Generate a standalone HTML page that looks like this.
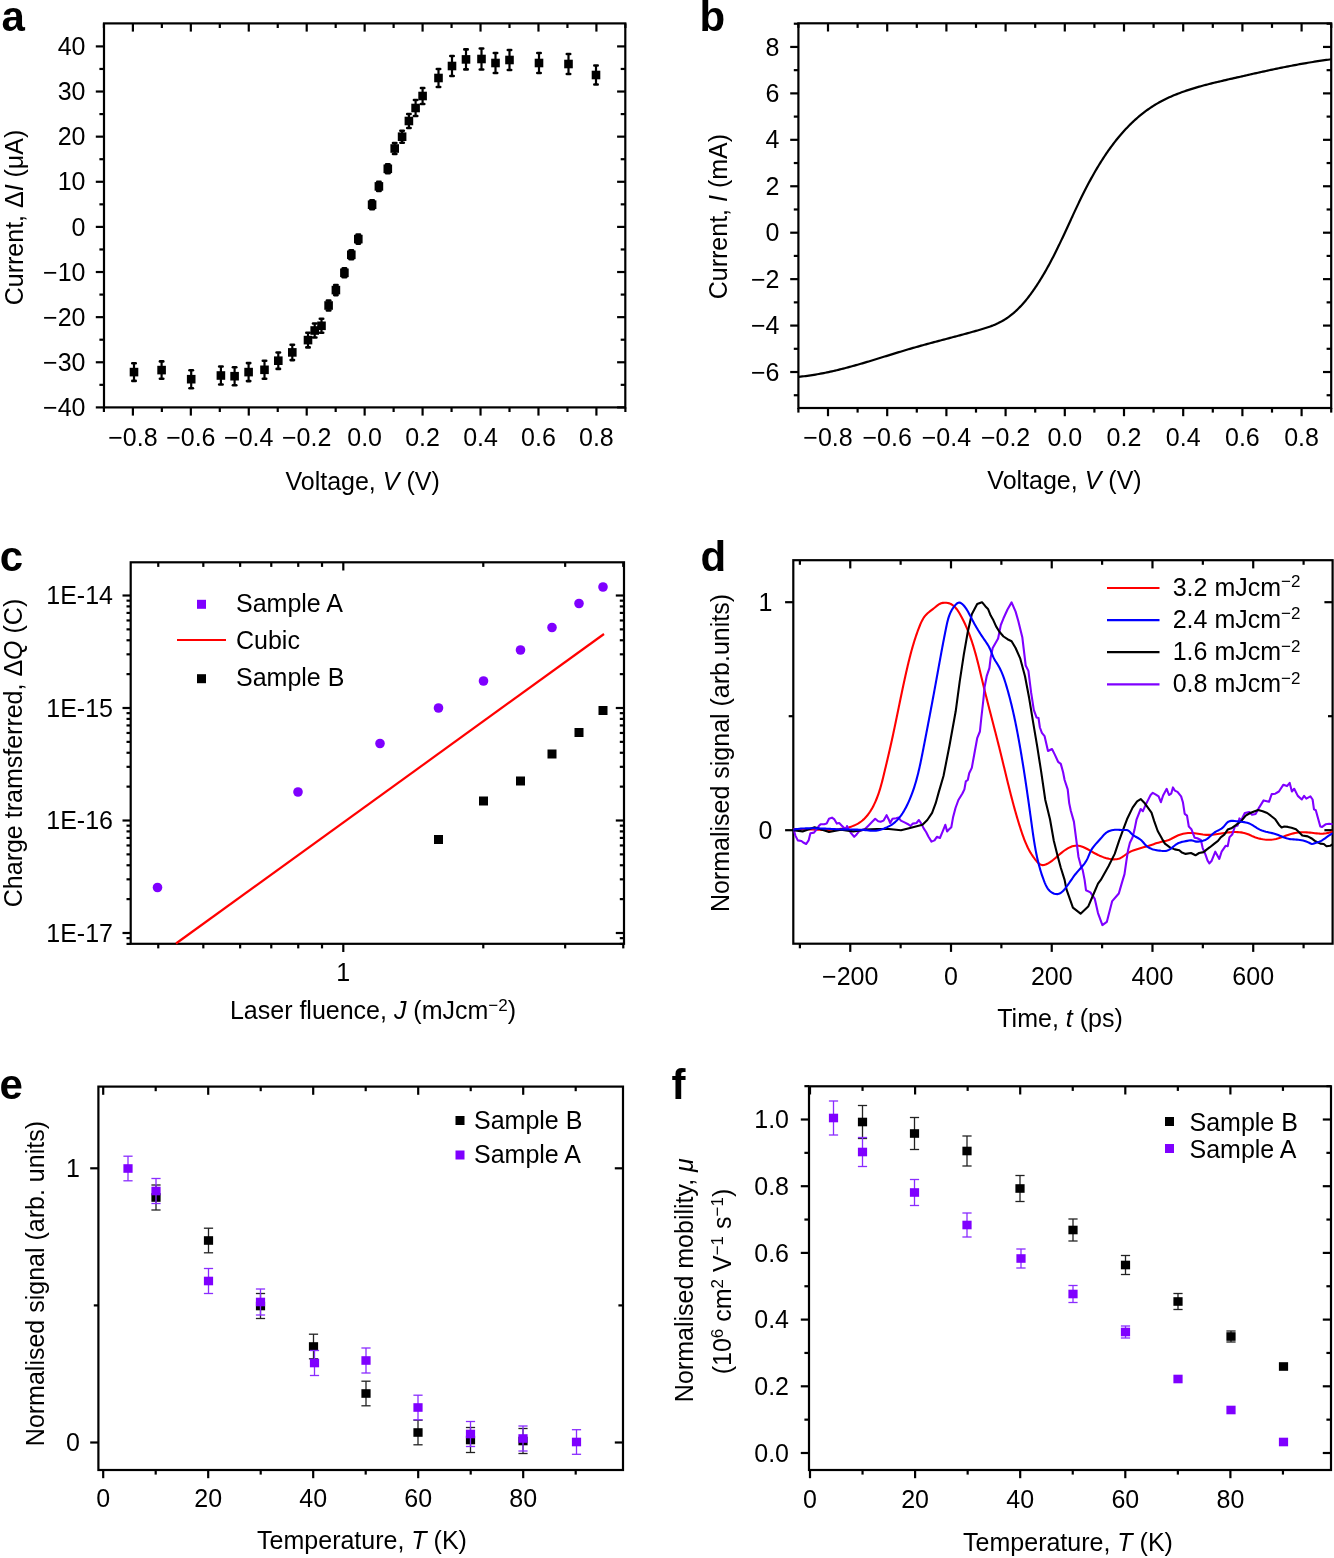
<!DOCTYPE html>
<html><head><meta charset="utf-8"><style>
html,body{margin:0;padding:0;background:#fff;}
body{width:1334px;height:1558px;overflow:hidden;}
svg{display:block;will-change:transform;}
text{font-family:"Liberation Sans", sans-serif;fill:#000;}
</style></head><body>
<svg width="1334" height="1558" viewBox="0 0 1334 1558" font-family='"Liberation Sans", sans-serif'><rect x="104" y="23.4" width="521.3" height="384" fill="none" stroke="#000" stroke-width="2.2"/>
<line x1="132.89" y1="407.4" x2="132.89" y2="415.6" stroke="#000" stroke-width="2.2" stroke-linecap="butt"/>
<line x1="132.89" y1="23.4" x2="132.89" y2="31.6" stroke="#000" stroke-width="2.2" stroke-linecap="butt"/>
<line x1="190.83" y1="407.4" x2="190.83" y2="415.6" stroke="#000" stroke-width="2.2" stroke-linecap="butt"/>
<line x1="190.83" y1="23.4" x2="190.83" y2="31.6" stroke="#000" stroke-width="2.2" stroke-linecap="butt"/>
<line x1="248.77" y1="407.4" x2="248.77" y2="415.6" stroke="#000" stroke-width="2.2" stroke-linecap="butt"/>
<line x1="248.77" y1="23.4" x2="248.77" y2="31.6" stroke="#000" stroke-width="2.2" stroke-linecap="butt"/>
<line x1="306.71" y1="407.4" x2="306.71" y2="415.6" stroke="#000" stroke-width="2.2" stroke-linecap="butt"/>
<line x1="306.71" y1="23.4" x2="306.71" y2="31.6" stroke="#000" stroke-width="2.2" stroke-linecap="butt"/>
<line x1="364.65" y1="407.4" x2="364.65" y2="415.6" stroke="#000" stroke-width="2.2" stroke-linecap="butt"/>
<line x1="364.65" y1="23.4" x2="364.65" y2="31.6" stroke="#000" stroke-width="2.2" stroke-linecap="butt"/>
<line x1="422.59" y1="407.4" x2="422.59" y2="415.6" stroke="#000" stroke-width="2.2" stroke-linecap="butt"/>
<line x1="422.59" y1="23.4" x2="422.59" y2="31.6" stroke="#000" stroke-width="2.2" stroke-linecap="butt"/>
<line x1="480.53" y1="407.4" x2="480.53" y2="415.6" stroke="#000" stroke-width="2.2" stroke-linecap="butt"/>
<line x1="480.53" y1="23.4" x2="480.53" y2="31.6" stroke="#000" stroke-width="2.2" stroke-linecap="butt"/>
<line x1="538.47" y1="407.4" x2="538.47" y2="415.6" stroke="#000" stroke-width="2.2" stroke-linecap="butt"/>
<line x1="538.47" y1="23.4" x2="538.47" y2="31.6" stroke="#000" stroke-width="2.2" stroke-linecap="butt"/>
<line x1="596.41" y1="407.4" x2="596.41" y2="415.6" stroke="#000" stroke-width="2.2" stroke-linecap="butt"/>
<line x1="596.41" y1="23.4" x2="596.41" y2="31.6" stroke="#000" stroke-width="2.2" stroke-linecap="butt"/>
<line x1="103.92" y1="407.4" x2="103.92" y2="412" stroke="#000" stroke-width="2.2" stroke-linecap="butt"/>
<line x1="103.92" y1="23.4" x2="103.92" y2="28" stroke="#000" stroke-width="2.2" stroke-linecap="butt"/>
<line x1="161.86" y1="407.4" x2="161.86" y2="412" stroke="#000" stroke-width="2.2" stroke-linecap="butt"/>
<line x1="161.86" y1="23.4" x2="161.86" y2="28" stroke="#000" stroke-width="2.2" stroke-linecap="butt"/>
<line x1="219.8" y1="407.4" x2="219.8" y2="412" stroke="#000" stroke-width="2.2" stroke-linecap="butt"/>
<line x1="219.8" y1="23.4" x2="219.8" y2="28" stroke="#000" stroke-width="2.2" stroke-linecap="butt"/>
<line x1="277.74" y1="407.4" x2="277.74" y2="412" stroke="#000" stroke-width="2.2" stroke-linecap="butt"/>
<line x1="277.74" y1="23.4" x2="277.74" y2="28" stroke="#000" stroke-width="2.2" stroke-linecap="butt"/>
<line x1="335.68" y1="407.4" x2="335.68" y2="412" stroke="#000" stroke-width="2.2" stroke-linecap="butt"/>
<line x1="335.68" y1="23.4" x2="335.68" y2="28" stroke="#000" stroke-width="2.2" stroke-linecap="butt"/>
<line x1="393.62" y1="407.4" x2="393.62" y2="412" stroke="#000" stroke-width="2.2" stroke-linecap="butt"/>
<line x1="393.62" y1="23.4" x2="393.62" y2="28" stroke="#000" stroke-width="2.2" stroke-linecap="butt"/>
<line x1="451.56" y1="407.4" x2="451.56" y2="412" stroke="#000" stroke-width="2.2" stroke-linecap="butt"/>
<line x1="451.56" y1="23.4" x2="451.56" y2="28" stroke="#000" stroke-width="2.2" stroke-linecap="butt"/>
<line x1="509.5" y1="407.4" x2="509.5" y2="412" stroke="#000" stroke-width="2.2" stroke-linecap="butt"/>
<line x1="509.5" y1="23.4" x2="509.5" y2="28" stroke="#000" stroke-width="2.2" stroke-linecap="butt"/>
<line x1="567.44" y1="407.4" x2="567.44" y2="412" stroke="#000" stroke-width="2.2" stroke-linecap="butt"/>
<line x1="567.44" y1="23.4" x2="567.44" y2="28" stroke="#000" stroke-width="2.2" stroke-linecap="butt"/>
<line x1="625.38" y1="407.4" x2="625.38" y2="412" stroke="#000" stroke-width="2.2" stroke-linecap="butt"/>
<line x1="625.38" y1="23.4" x2="625.38" y2="28" stroke="#000" stroke-width="2.2" stroke-linecap="butt"/>
<line x1="95.8" y1="407.4" x2="104" y2="407.4" stroke="#000" stroke-width="2.2" stroke-linecap="butt"/>
<line x1="617.1" y1="407.4" x2="625.3" y2="407.4" stroke="#000" stroke-width="2.2" stroke-linecap="butt"/>
<line x1="95.8" y1="362.27" x2="104" y2="362.27" stroke="#000" stroke-width="2.2" stroke-linecap="butt"/>
<line x1="617.1" y1="362.27" x2="625.3" y2="362.27" stroke="#000" stroke-width="2.2" stroke-linecap="butt"/>
<line x1="95.8" y1="317.15" x2="104" y2="317.15" stroke="#000" stroke-width="2.2" stroke-linecap="butt"/>
<line x1="617.1" y1="317.15" x2="625.3" y2="317.15" stroke="#000" stroke-width="2.2" stroke-linecap="butt"/>
<line x1="95.8" y1="272.02" x2="104" y2="272.02" stroke="#000" stroke-width="2.2" stroke-linecap="butt"/>
<line x1="617.1" y1="272.02" x2="625.3" y2="272.02" stroke="#000" stroke-width="2.2" stroke-linecap="butt"/>
<line x1="95.8" y1="226.9" x2="104" y2="226.9" stroke="#000" stroke-width="2.2" stroke-linecap="butt"/>
<line x1="617.1" y1="226.9" x2="625.3" y2="226.9" stroke="#000" stroke-width="2.2" stroke-linecap="butt"/>
<line x1="95.8" y1="181.78" x2="104" y2="181.78" stroke="#000" stroke-width="2.2" stroke-linecap="butt"/>
<line x1="617.1" y1="181.78" x2="625.3" y2="181.78" stroke="#000" stroke-width="2.2" stroke-linecap="butt"/>
<line x1="95.8" y1="136.65" x2="104" y2="136.65" stroke="#000" stroke-width="2.2" stroke-linecap="butt"/>
<line x1="617.1" y1="136.65" x2="625.3" y2="136.65" stroke="#000" stroke-width="2.2" stroke-linecap="butt"/>
<line x1="95.8" y1="91.53" x2="104" y2="91.53" stroke="#000" stroke-width="2.2" stroke-linecap="butt"/>
<line x1="617.1" y1="91.53" x2="625.3" y2="91.53" stroke="#000" stroke-width="2.2" stroke-linecap="butt"/>
<line x1="95.8" y1="46.4" x2="104" y2="46.4" stroke="#000" stroke-width="2.2" stroke-linecap="butt"/>
<line x1="617.1" y1="46.4" x2="625.3" y2="46.4" stroke="#000" stroke-width="2.2" stroke-linecap="butt"/>
<line x1="99.4" y1="384.84" x2="104" y2="384.84" stroke="#000" stroke-width="2.2" stroke-linecap="butt"/>
<line x1="620.7" y1="384.84" x2="625.3" y2="384.84" stroke="#000" stroke-width="2.2" stroke-linecap="butt"/>
<line x1="99.4" y1="339.71" x2="104" y2="339.71" stroke="#000" stroke-width="2.2" stroke-linecap="butt"/>
<line x1="620.7" y1="339.71" x2="625.3" y2="339.71" stroke="#000" stroke-width="2.2" stroke-linecap="butt"/>
<line x1="99.4" y1="294.59" x2="104" y2="294.59" stroke="#000" stroke-width="2.2" stroke-linecap="butt"/>
<line x1="620.7" y1="294.59" x2="625.3" y2="294.59" stroke="#000" stroke-width="2.2" stroke-linecap="butt"/>
<line x1="99.4" y1="249.46" x2="104" y2="249.46" stroke="#000" stroke-width="2.2" stroke-linecap="butt"/>
<line x1="620.7" y1="249.46" x2="625.3" y2="249.46" stroke="#000" stroke-width="2.2" stroke-linecap="butt"/>
<line x1="99.4" y1="204.34" x2="104" y2="204.34" stroke="#000" stroke-width="2.2" stroke-linecap="butt"/>
<line x1="620.7" y1="204.34" x2="625.3" y2="204.34" stroke="#000" stroke-width="2.2" stroke-linecap="butt"/>
<line x1="99.4" y1="159.21" x2="104" y2="159.21" stroke="#000" stroke-width="2.2" stroke-linecap="butt"/>
<line x1="620.7" y1="159.21" x2="625.3" y2="159.21" stroke="#000" stroke-width="2.2" stroke-linecap="butt"/>
<line x1="99.4" y1="114.09" x2="104" y2="114.09" stroke="#000" stroke-width="2.2" stroke-linecap="butt"/>
<line x1="620.7" y1="114.09" x2="625.3" y2="114.09" stroke="#000" stroke-width="2.2" stroke-linecap="butt"/>
<line x1="99.4" y1="68.96" x2="104" y2="68.96" stroke="#000" stroke-width="2.2" stroke-linecap="butt"/>
<line x1="620.7" y1="68.96" x2="625.3" y2="68.96" stroke="#000" stroke-width="2.2" stroke-linecap="butt"/>
<text x="132.89" y="445.8" font-size="25" text-anchor="middle">−0.8</text>
<text x="190.83" y="445.8" font-size="25" text-anchor="middle">−0.6</text>
<text x="248.77" y="445.8" font-size="25" text-anchor="middle">−0.4</text>
<text x="306.71" y="445.8" font-size="25" text-anchor="middle">−0.2</text>
<text x="364.65" y="445.8" font-size="25" text-anchor="middle">0.0</text>
<text x="422.59" y="445.8" font-size="25" text-anchor="middle">0.2</text>
<text x="480.53" y="445.8" font-size="25" text-anchor="middle">0.4</text>
<text x="538.47" y="445.8" font-size="25" text-anchor="middle">0.6</text>
<text x="596.41" y="445.8" font-size="25" text-anchor="middle">0.8</text>
<text x="85.5" y="416" font-size="25" text-anchor="end">−40</text>
<text x="85.5" y="370.88" font-size="25" text-anchor="end">−30</text>
<text x="85.5" y="325.75" font-size="25" text-anchor="end">−20</text>
<text x="85.5" y="280.62" font-size="25" text-anchor="end">−10</text>
<text x="85.5" y="235.5" font-size="25" text-anchor="end">0</text>
<text x="85.5" y="190.38" font-size="25" text-anchor="end">10</text>
<text x="85.5" y="145.25" font-size="25" text-anchor="end">20</text>
<text x="85.5" y="100.12" font-size="25" text-anchor="end">30</text>
<text x="85.5" y="55" font-size="25" text-anchor="end">40</text>
<text x="362.6" y="489.5" font-size="25" text-anchor="middle">Voltage, <tspan font-style="italic">V</tspan> (V)</text>
<text x="22.9" y="217.5" font-size="25" text-anchor="middle" transform="rotate(-90 22.9 217.5)">Current, Δ<tspan font-style="italic">I</tspan> (μA)</text>
<text x="1.5" y="30.8" font-size="42" text-anchor="start" font-weight="bold">a</text>
<line x1="134" y1="363.3" x2="134" y2="380.9" stroke="#000" stroke-width="2.2" stroke-linecap="butt"/>
<line x1="132.3" y1="363.3" x2="135.7" y2="363.3" stroke="#000" stroke-width="2.6" stroke-linecap="round"/>
<line x1="132.3" y1="380.9" x2="135.7" y2="380.9" stroke="#000" stroke-width="2.6" stroke-linecap="round"/>
<rect x="129.7" y="367.8" width="8.6" height="8.6" fill="#000"/>
<line x1="161.6" y1="361.4" x2="161.6" y2="378.8" stroke="#000" stroke-width="2.2" stroke-linecap="butt"/>
<line x1="159.9" y1="361.4" x2="163.3" y2="361.4" stroke="#000" stroke-width="2.6" stroke-linecap="round"/>
<line x1="159.9" y1="378.8" x2="163.3" y2="378.8" stroke="#000" stroke-width="2.6" stroke-linecap="round"/>
<rect x="157.3" y="365.8" width="8.6" height="8.6" fill="#000"/>
<line x1="191.2" y1="370.2" x2="191.2" y2="388.2" stroke="#000" stroke-width="2.2" stroke-linecap="butt"/>
<line x1="189.5" y1="370.2" x2="192.9" y2="370.2" stroke="#000" stroke-width="2.6" stroke-linecap="round"/>
<line x1="189.5" y1="388.2" x2="192.9" y2="388.2" stroke="#000" stroke-width="2.6" stroke-linecap="round"/>
<rect x="186.9" y="374.9" width="8.6" height="8.6" fill="#000"/>
<line x1="220.9" y1="366.5" x2="220.9" y2="384.5" stroke="#000" stroke-width="2.2" stroke-linecap="butt"/>
<line x1="219.2" y1="366.5" x2="222.6" y2="366.5" stroke="#000" stroke-width="2.6" stroke-linecap="round"/>
<line x1="219.2" y1="384.5" x2="222.6" y2="384.5" stroke="#000" stroke-width="2.6" stroke-linecap="round"/>
<rect x="216.6" y="371.2" width="8.6" height="8.6" fill="#000"/>
<line x1="234.6" y1="367.2" x2="234.6" y2="385.2" stroke="#000" stroke-width="2.2" stroke-linecap="butt"/>
<line x1="232.9" y1="367.2" x2="236.3" y2="367.2" stroke="#000" stroke-width="2.6" stroke-linecap="round"/>
<line x1="232.9" y1="385.2" x2="236.3" y2="385.2" stroke="#000" stroke-width="2.6" stroke-linecap="round"/>
<rect x="230.3" y="371.9" width="8.6" height="8.6" fill="#000"/>
<line x1="248.6" y1="363.1" x2="248.6" y2="381.1" stroke="#000" stroke-width="2.2" stroke-linecap="butt"/>
<line x1="246.9" y1="363.1" x2="250.3" y2="363.1" stroke="#000" stroke-width="2.6" stroke-linecap="round"/>
<line x1="246.9" y1="381.1" x2="250.3" y2="381.1" stroke="#000" stroke-width="2.6" stroke-linecap="round"/>
<rect x="244.3" y="367.8" width="8.6" height="8.6" fill="#000"/>
<line x1="264.5" y1="360.8" x2="264.5" y2="378.8" stroke="#000" stroke-width="2.2" stroke-linecap="butt"/>
<line x1="262.8" y1="360.8" x2="266.2" y2="360.8" stroke="#000" stroke-width="2.6" stroke-linecap="round"/>
<line x1="262.8" y1="378.8" x2="266.2" y2="378.8" stroke="#000" stroke-width="2.6" stroke-linecap="round"/>
<rect x="260.2" y="365.5" width="8.6" height="8.6" fill="#000"/>
<line x1="278.3" y1="352.5" x2="278.3" y2="368.9" stroke="#000" stroke-width="2.2" stroke-linecap="butt"/>
<line x1="276.6" y1="352.5" x2="280" y2="352.5" stroke="#000" stroke-width="2.6" stroke-linecap="round"/>
<line x1="276.6" y1="368.9" x2="280" y2="368.9" stroke="#000" stroke-width="2.6" stroke-linecap="round"/>
<rect x="274" y="356.4" width="8.6" height="8.6" fill="#000"/>
<line x1="292.3" y1="344.7" x2="292.3" y2="360.1" stroke="#000" stroke-width="2.2" stroke-linecap="butt"/>
<line x1="290.6" y1="344.7" x2="294" y2="344.7" stroke="#000" stroke-width="2.6" stroke-linecap="round"/>
<line x1="290.6" y1="360.1" x2="294" y2="360.1" stroke="#000" stroke-width="2.6" stroke-linecap="round"/>
<rect x="288" y="348.1" width="8.6" height="8.6" fill="#000"/>
<line x1="308" y1="332.8" x2="308" y2="347.4" stroke="#000" stroke-width="2.2" stroke-linecap="butt"/>
<line x1="306.3" y1="332.8" x2="309.7" y2="332.8" stroke="#000" stroke-width="2.6" stroke-linecap="round"/>
<line x1="306.3" y1="347.4" x2="309.7" y2="347.4" stroke="#000" stroke-width="2.6" stroke-linecap="round"/>
<rect x="303.7" y="335.8" width="8.6" height="8.6" fill="#000"/>
<line x1="314.7" y1="323.5" x2="314.7" y2="337.5" stroke="#000" stroke-width="2.2" stroke-linecap="butt"/>
<line x1="313" y1="323.5" x2="316.4" y2="323.5" stroke="#000" stroke-width="2.6" stroke-linecap="round"/>
<line x1="313" y1="337.5" x2="316.4" y2="337.5" stroke="#000" stroke-width="2.6" stroke-linecap="round"/>
<rect x="310.4" y="326.2" width="8.6" height="8.6" fill="#000"/>
<line x1="321.5" y1="318.8" x2="321.5" y2="332.8" stroke="#000" stroke-width="2.2" stroke-linecap="butt"/>
<line x1="319.8" y1="318.8" x2="323.2" y2="318.8" stroke="#000" stroke-width="2.6" stroke-linecap="round"/>
<line x1="319.8" y1="332.8" x2="323.2" y2="332.8" stroke="#000" stroke-width="2.6" stroke-linecap="round"/>
<rect x="317.2" y="321.5" width="8.6" height="8.6" fill="#000"/>
<line x1="328.6" y1="300.5" x2="328.6" y2="310.5" stroke="#000" stroke-width="2.2" stroke-linecap="butt"/>
<line x1="326.9" y1="300.5" x2="330.3" y2="300.5" stroke="#000" stroke-width="2.6" stroke-linecap="round"/>
<line x1="326.9" y1="310.5" x2="330.3" y2="310.5" stroke="#000" stroke-width="2.6" stroke-linecap="round"/>
<rect x="324.3" y="301.2" width="8.6" height="8.6" fill="#000"/>
<line x1="335.9" y1="285.1" x2="335.9" y2="295.1" stroke="#000" stroke-width="2.2" stroke-linecap="butt"/>
<line x1="334.2" y1="285.1" x2="337.6" y2="285.1" stroke="#000" stroke-width="2.6" stroke-linecap="round"/>
<line x1="334.2" y1="295.1" x2="337.6" y2="295.1" stroke="#000" stroke-width="2.6" stroke-linecap="round"/>
<rect x="331.6" y="285.8" width="8.6" height="8.6" fill="#000"/>
<line x1="344.4" y1="268.3" x2="344.4" y2="277.3" stroke="#000" stroke-width="2.2" stroke-linecap="butt"/>
<line x1="342.7" y1="268.3" x2="346.1" y2="268.3" stroke="#000" stroke-width="2.6" stroke-linecap="round"/>
<line x1="342.7" y1="277.3" x2="346.1" y2="277.3" stroke="#000" stroke-width="2.6" stroke-linecap="round"/>
<rect x="340.1" y="268.5" width="8.6" height="8.6" fill="#000"/>
<line x1="351.3" y1="250.3" x2="351.3" y2="259.3" stroke="#000" stroke-width="2.2" stroke-linecap="butt"/>
<line x1="349.6" y1="250.3" x2="353" y2="250.3" stroke="#000" stroke-width="2.6" stroke-linecap="round"/>
<line x1="349.6" y1="259.3" x2="353" y2="259.3" stroke="#000" stroke-width="2.6" stroke-linecap="round"/>
<rect x="347" y="250.5" width="8.6" height="8.6" fill="#000"/>
<line x1="358.3" y1="234.6" x2="358.3" y2="243.6" stroke="#000" stroke-width="2.2" stroke-linecap="butt"/>
<line x1="356.6" y1="234.6" x2="360" y2="234.6" stroke="#000" stroke-width="2.6" stroke-linecap="round"/>
<line x1="356.6" y1="243.6" x2="360" y2="243.6" stroke="#000" stroke-width="2.6" stroke-linecap="round"/>
<rect x="354" y="234.8" width="8.6" height="8.6" fill="#000"/>
<line x1="372.1" y1="200.2" x2="372.1" y2="209.2" stroke="#000" stroke-width="2.2" stroke-linecap="butt"/>
<line x1="370.4" y1="200.2" x2="373.8" y2="200.2" stroke="#000" stroke-width="2.6" stroke-linecap="round"/>
<line x1="370.4" y1="209.2" x2="373.8" y2="209.2" stroke="#000" stroke-width="2.6" stroke-linecap="round"/>
<rect x="367.8" y="200.4" width="8.6" height="8.6" fill="#000"/>
<line x1="378.9" y1="181.9" x2="378.9" y2="190.9" stroke="#000" stroke-width="2.2" stroke-linecap="butt"/>
<line x1="377.2" y1="181.9" x2="380.6" y2="181.9" stroke="#000" stroke-width="2.6" stroke-linecap="round"/>
<line x1="377.2" y1="190.9" x2="380.6" y2="190.9" stroke="#000" stroke-width="2.6" stroke-linecap="round"/>
<rect x="374.6" y="182.1" width="8.6" height="8.6" fill="#000"/>
<line x1="387.8" y1="164.3" x2="387.8" y2="173.3" stroke="#000" stroke-width="2.2" stroke-linecap="butt"/>
<line x1="386.1" y1="164.3" x2="389.5" y2="164.3" stroke="#000" stroke-width="2.6" stroke-linecap="round"/>
<line x1="386.1" y1="173.3" x2="389.5" y2="173.3" stroke="#000" stroke-width="2.6" stroke-linecap="round"/>
<rect x="383.5" y="164.5" width="8.6" height="8.6" fill="#000"/>
<line x1="394.7" y1="143" x2="394.7" y2="154" stroke="#000" stroke-width="2.2" stroke-linecap="butt"/>
<line x1="393" y1="143" x2="396.4" y2="143" stroke="#000" stroke-width="2.6" stroke-linecap="round"/>
<line x1="393" y1="154" x2="396.4" y2="154" stroke="#000" stroke-width="2.6" stroke-linecap="round"/>
<rect x="390.4" y="144.2" width="8.6" height="8.6" fill="#000"/>
<line x1="402.1" y1="130.7" x2="402.1" y2="142.7" stroke="#000" stroke-width="2.2" stroke-linecap="butt"/>
<line x1="400.4" y1="130.7" x2="403.8" y2="130.7" stroke="#000" stroke-width="2.6" stroke-linecap="round"/>
<line x1="400.4" y1="142.7" x2="403.8" y2="142.7" stroke="#000" stroke-width="2.6" stroke-linecap="round"/>
<rect x="397.8" y="132.4" width="8.6" height="8.6" fill="#000"/>
<line x1="408.9" y1="114" x2="408.9" y2="128" stroke="#000" stroke-width="2.2" stroke-linecap="butt"/>
<line x1="407.2" y1="114" x2="410.6" y2="114" stroke="#000" stroke-width="2.6" stroke-linecap="round"/>
<line x1="407.2" y1="128" x2="410.6" y2="128" stroke="#000" stroke-width="2.6" stroke-linecap="round"/>
<rect x="404.6" y="116.7" width="8.6" height="8.6" fill="#000"/>
<line x1="415.6" y1="100" x2="415.6" y2="116" stroke="#000" stroke-width="2.2" stroke-linecap="butt"/>
<line x1="413.9" y1="100" x2="417.3" y2="100" stroke="#000" stroke-width="2.6" stroke-linecap="round"/>
<line x1="413.9" y1="116" x2="417.3" y2="116" stroke="#000" stroke-width="2.6" stroke-linecap="round"/>
<rect x="411.3" y="103.7" width="8.6" height="8.6" fill="#000"/>
<line x1="422.6" y1="88" x2="422.6" y2="104" stroke="#000" stroke-width="2.2" stroke-linecap="butt"/>
<line x1="420.9" y1="88" x2="424.3" y2="88" stroke="#000" stroke-width="2.6" stroke-linecap="round"/>
<line x1="420.9" y1="104" x2="424.3" y2="104" stroke="#000" stroke-width="2.6" stroke-linecap="round"/>
<rect x="418.3" y="91.7" width="8.6" height="8.6" fill="#000"/>
<line x1="438.5" y1="69" x2="438.5" y2="87" stroke="#000" stroke-width="2.2" stroke-linecap="butt"/>
<line x1="436.8" y1="69" x2="440.2" y2="69" stroke="#000" stroke-width="2.6" stroke-linecap="round"/>
<line x1="436.8" y1="87" x2="440.2" y2="87" stroke="#000" stroke-width="2.6" stroke-linecap="round"/>
<rect x="434.2" y="73.7" width="8.6" height="8.6" fill="#000"/>
<line x1="452" y1="56" x2="452" y2="76" stroke="#000" stroke-width="2.2" stroke-linecap="butt"/>
<line x1="450.3" y1="56" x2="453.7" y2="56" stroke="#000" stroke-width="2.6" stroke-linecap="round"/>
<line x1="450.3" y1="76" x2="453.7" y2="76" stroke="#000" stroke-width="2.6" stroke-linecap="round"/>
<rect x="447.7" y="61.7" width="8.6" height="8.6" fill="#000"/>
<line x1="466" y1="49.4" x2="466" y2="69.4" stroke="#000" stroke-width="2.2" stroke-linecap="butt"/>
<line x1="464.3" y1="49.4" x2="467.7" y2="49.4" stroke="#000" stroke-width="2.6" stroke-linecap="round"/>
<line x1="464.3" y1="69.4" x2="467.7" y2="69.4" stroke="#000" stroke-width="2.6" stroke-linecap="round"/>
<rect x="461.7" y="55.1" width="8.6" height="8.6" fill="#000"/>
<line x1="481.5" y1="48.5" x2="481.5" y2="69.5" stroke="#000" stroke-width="2.2" stroke-linecap="butt"/>
<line x1="479.8" y1="48.5" x2="483.2" y2="48.5" stroke="#000" stroke-width="2.6" stroke-linecap="round"/>
<line x1="479.8" y1="69.5" x2="483.2" y2="69.5" stroke="#000" stroke-width="2.6" stroke-linecap="round"/>
<rect x="477.2" y="54.7" width="8.6" height="8.6" fill="#000"/>
<line x1="495.5" y1="53" x2="495.5" y2="73" stroke="#000" stroke-width="2.2" stroke-linecap="butt"/>
<line x1="493.8" y1="53" x2="497.2" y2="53" stroke="#000" stroke-width="2.6" stroke-linecap="round"/>
<line x1="493.8" y1="73" x2="497.2" y2="73" stroke="#000" stroke-width="2.6" stroke-linecap="round"/>
<rect x="491.2" y="58.7" width="8.6" height="8.6" fill="#000"/>
<line x1="509.5" y1="50" x2="509.5" y2="70" stroke="#000" stroke-width="2.2" stroke-linecap="butt"/>
<line x1="507.8" y1="50" x2="511.2" y2="50" stroke="#000" stroke-width="2.6" stroke-linecap="round"/>
<line x1="507.8" y1="70" x2="511.2" y2="70" stroke="#000" stroke-width="2.6" stroke-linecap="round"/>
<rect x="505.2" y="55.7" width="8.6" height="8.6" fill="#000"/>
<line x1="539" y1="53" x2="539" y2="73" stroke="#000" stroke-width="2.2" stroke-linecap="butt"/>
<line x1="537.3" y1="53" x2="540.7" y2="53" stroke="#000" stroke-width="2.6" stroke-linecap="round"/>
<line x1="537.3" y1="73" x2="540.7" y2="73" stroke="#000" stroke-width="2.6" stroke-linecap="round"/>
<rect x="534.7" y="58.7" width="8.6" height="8.6" fill="#000"/>
<line x1="568.5" y1="54" x2="568.5" y2="74" stroke="#000" stroke-width="2.2" stroke-linecap="butt"/>
<line x1="566.8" y1="54" x2="570.2" y2="54" stroke="#000" stroke-width="2.6" stroke-linecap="round"/>
<line x1="566.8" y1="74" x2="570.2" y2="74" stroke="#000" stroke-width="2.6" stroke-linecap="round"/>
<rect x="564.2" y="59.7" width="8.6" height="8.6" fill="#000"/>
<line x1="596" y1="65.5" x2="596" y2="84.5" stroke="#000" stroke-width="2.2" stroke-linecap="butt"/>
<line x1="594.3" y1="65.5" x2="597.7" y2="65.5" stroke="#000" stroke-width="2.6" stroke-linecap="round"/>
<line x1="594.3" y1="84.5" x2="597.7" y2="84.5" stroke="#000" stroke-width="2.6" stroke-linecap="round"/>
<rect x="591.7" y="70.7" width="8.6" height="8.6" fill="#000"/>
<rect x="798.4" y="23.3" width="532.8" height="384.7" fill="none" stroke="#000" stroke-width="2.2"/>
<line x1="828" y1="408" x2="828" y2="416.2" stroke="#000" stroke-width="2.2" stroke-linecap="butt"/>
<line x1="828" y1="23.3" x2="828" y2="31.5" stroke="#000" stroke-width="2.2" stroke-linecap="butt"/>
<line x1="887.2" y1="408" x2="887.2" y2="416.2" stroke="#000" stroke-width="2.2" stroke-linecap="butt"/>
<line x1="887.2" y1="23.3" x2="887.2" y2="31.5" stroke="#000" stroke-width="2.2" stroke-linecap="butt"/>
<line x1="946.4" y1="408" x2="946.4" y2="416.2" stroke="#000" stroke-width="2.2" stroke-linecap="butt"/>
<line x1="946.4" y1="23.3" x2="946.4" y2="31.5" stroke="#000" stroke-width="2.2" stroke-linecap="butt"/>
<line x1="1005.6" y1="408" x2="1005.6" y2="416.2" stroke="#000" stroke-width="2.2" stroke-linecap="butt"/>
<line x1="1005.6" y1="23.3" x2="1005.6" y2="31.5" stroke="#000" stroke-width="2.2" stroke-linecap="butt"/>
<line x1="1064.8" y1="408" x2="1064.8" y2="416.2" stroke="#000" stroke-width="2.2" stroke-linecap="butt"/>
<line x1="1064.8" y1="23.3" x2="1064.8" y2="31.5" stroke="#000" stroke-width="2.2" stroke-linecap="butt"/>
<line x1="1124" y1="408" x2="1124" y2="416.2" stroke="#000" stroke-width="2.2" stroke-linecap="butt"/>
<line x1="1124" y1="23.3" x2="1124" y2="31.5" stroke="#000" stroke-width="2.2" stroke-linecap="butt"/>
<line x1="1183.2" y1="408" x2="1183.2" y2="416.2" stroke="#000" stroke-width="2.2" stroke-linecap="butt"/>
<line x1="1183.2" y1="23.3" x2="1183.2" y2="31.5" stroke="#000" stroke-width="2.2" stroke-linecap="butt"/>
<line x1="1242.4" y1="408" x2="1242.4" y2="416.2" stroke="#000" stroke-width="2.2" stroke-linecap="butt"/>
<line x1="1242.4" y1="23.3" x2="1242.4" y2="31.5" stroke="#000" stroke-width="2.2" stroke-linecap="butt"/>
<line x1="1301.6" y1="408" x2="1301.6" y2="416.2" stroke="#000" stroke-width="2.2" stroke-linecap="butt"/>
<line x1="1301.6" y1="23.3" x2="1301.6" y2="31.5" stroke="#000" stroke-width="2.2" stroke-linecap="butt"/>
<line x1="798.4" y1="408" x2="798.4" y2="412.6" stroke="#000" stroke-width="2.2" stroke-linecap="butt"/>
<line x1="798.4" y1="23.3" x2="798.4" y2="27.9" stroke="#000" stroke-width="2.2" stroke-linecap="butt"/>
<line x1="857.6" y1="408" x2="857.6" y2="412.6" stroke="#000" stroke-width="2.2" stroke-linecap="butt"/>
<line x1="857.6" y1="23.3" x2="857.6" y2="27.9" stroke="#000" stroke-width="2.2" stroke-linecap="butt"/>
<line x1="916.8" y1="408" x2="916.8" y2="412.6" stroke="#000" stroke-width="2.2" stroke-linecap="butt"/>
<line x1="916.8" y1="23.3" x2="916.8" y2="27.9" stroke="#000" stroke-width="2.2" stroke-linecap="butt"/>
<line x1="976" y1="408" x2="976" y2="412.6" stroke="#000" stroke-width="2.2" stroke-linecap="butt"/>
<line x1="976" y1="23.3" x2="976" y2="27.9" stroke="#000" stroke-width="2.2" stroke-linecap="butt"/>
<line x1="1035.2" y1="408" x2="1035.2" y2="412.6" stroke="#000" stroke-width="2.2" stroke-linecap="butt"/>
<line x1="1035.2" y1="23.3" x2="1035.2" y2="27.9" stroke="#000" stroke-width="2.2" stroke-linecap="butt"/>
<line x1="1094.4" y1="408" x2="1094.4" y2="412.6" stroke="#000" stroke-width="2.2" stroke-linecap="butt"/>
<line x1="1094.4" y1="23.3" x2="1094.4" y2="27.9" stroke="#000" stroke-width="2.2" stroke-linecap="butt"/>
<line x1="1153.6" y1="408" x2="1153.6" y2="412.6" stroke="#000" stroke-width="2.2" stroke-linecap="butt"/>
<line x1="1153.6" y1="23.3" x2="1153.6" y2="27.9" stroke="#000" stroke-width="2.2" stroke-linecap="butt"/>
<line x1="1212.8" y1="408" x2="1212.8" y2="412.6" stroke="#000" stroke-width="2.2" stroke-linecap="butt"/>
<line x1="1212.8" y1="23.3" x2="1212.8" y2="27.9" stroke="#000" stroke-width="2.2" stroke-linecap="butt"/>
<line x1="1272" y1="408" x2="1272" y2="412.6" stroke="#000" stroke-width="2.2" stroke-linecap="butt"/>
<line x1="1272" y1="23.3" x2="1272" y2="27.9" stroke="#000" stroke-width="2.2" stroke-linecap="butt"/>
<line x1="1331.2" y1="408" x2="1331.2" y2="412.6" stroke="#000" stroke-width="2.2" stroke-linecap="butt"/>
<line x1="1331.2" y1="23.3" x2="1331.2" y2="27.9" stroke="#000" stroke-width="2.2" stroke-linecap="butt"/>
<line x1="790.2" y1="372.02" x2="798.4" y2="372.02" stroke="#000" stroke-width="2.2" stroke-linecap="butt"/>
<line x1="1323" y1="372.02" x2="1331.2" y2="372.02" stroke="#000" stroke-width="2.2" stroke-linecap="butt"/>
<line x1="790.2" y1="325.58" x2="798.4" y2="325.58" stroke="#000" stroke-width="2.2" stroke-linecap="butt"/>
<line x1="1323" y1="325.58" x2="1331.2" y2="325.58" stroke="#000" stroke-width="2.2" stroke-linecap="butt"/>
<line x1="790.2" y1="279.14" x2="798.4" y2="279.14" stroke="#000" stroke-width="2.2" stroke-linecap="butt"/>
<line x1="1323" y1="279.14" x2="1331.2" y2="279.14" stroke="#000" stroke-width="2.2" stroke-linecap="butt"/>
<line x1="790.2" y1="232.7" x2="798.4" y2="232.7" stroke="#000" stroke-width="2.2" stroke-linecap="butt"/>
<line x1="1323" y1="232.7" x2="1331.2" y2="232.7" stroke="#000" stroke-width="2.2" stroke-linecap="butt"/>
<line x1="790.2" y1="186.26" x2="798.4" y2="186.26" stroke="#000" stroke-width="2.2" stroke-linecap="butt"/>
<line x1="1323" y1="186.26" x2="1331.2" y2="186.26" stroke="#000" stroke-width="2.2" stroke-linecap="butt"/>
<line x1="790.2" y1="139.82" x2="798.4" y2="139.82" stroke="#000" stroke-width="2.2" stroke-linecap="butt"/>
<line x1="1323" y1="139.82" x2="1331.2" y2="139.82" stroke="#000" stroke-width="2.2" stroke-linecap="butt"/>
<line x1="790.2" y1="93.38" x2="798.4" y2="93.38" stroke="#000" stroke-width="2.2" stroke-linecap="butt"/>
<line x1="1323" y1="93.38" x2="1331.2" y2="93.38" stroke="#000" stroke-width="2.2" stroke-linecap="butt"/>
<line x1="790.2" y1="46.94" x2="798.4" y2="46.94" stroke="#000" stroke-width="2.2" stroke-linecap="butt"/>
<line x1="1323" y1="46.94" x2="1331.2" y2="46.94" stroke="#000" stroke-width="2.2" stroke-linecap="butt"/>
<line x1="793.8" y1="395.24" x2="798.4" y2="395.24" stroke="#000" stroke-width="2.2" stroke-linecap="butt"/>
<line x1="1326.6" y1="395.24" x2="1331.2" y2="395.24" stroke="#000" stroke-width="2.2" stroke-linecap="butt"/>
<line x1="793.8" y1="348.8" x2="798.4" y2="348.8" stroke="#000" stroke-width="2.2" stroke-linecap="butt"/>
<line x1="1326.6" y1="348.8" x2="1331.2" y2="348.8" stroke="#000" stroke-width="2.2" stroke-linecap="butt"/>
<line x1="793.8" y1="302.36" x2="798.4" y2="302.36" stroke="#000" stroke-width="2.2" stroke-linecap="butt"/>
<line x1="1326.6" y1="302.36" x2="1331.2" y2="302.36" stroke="#000" stroke-width="2.2" stroke-linecap="butt"/>
<line x1="793.8" y1="255.92" x2="798.4" y2="255.92" stroke="#000" stroke-width="2.2" stroke-linecap="butt"/>
<line x1="1326.6" y1="255.92" x2="1331.2" y2="255.92" stroke="#000" stroke-width="2.2" stroke-linecap="butt"/>
<line x1="793.8" y1="209.48" x2="798.4" y2="209.48" stroke="#000" stroke-width="2.2" stroke-linecap="butt"/>
<line x1="1326.6" y1="209.48" x2="1331.2" y2="209.48" stroke="#000" stroke-width="2.2" stroke-linecap="butt"/>
<line x1="793.8" y1="163.04" x2="798.4" y2="163.04" stroke="#000" stroke-width="2.2" stroke-linecap="butt"/>
<line x1="1326.6" y1="163.04" x2="1331.2" y2="163.04" stroke="#000" stroke-width="2.2" stroke-linecap="butt"/>
<line x1="793.8" y1="116.6" x2="798.4" y2="116.6" stroke="#000" stroke-width="2.2" stroke-linecap="butt"/>
<line x1="1326.6" y1="116.6" x2="1331.2" y2="116.6" stroke="#000" stroke-width="2.2" stroke-linecap="butt"/>
<line x1="793.8" y1="70.16" x2="798.4" y2="70.16" stroke="#000" stroke-width="2.2" stroke-linecap="butt"/>
<line x1="1326.6" y1="70.16" x2="1331.2" y2="70.16" stroke="#000" stroke-width="2.2" stroke-linecap="butt"/>
<line x1="793.8" y1="23.72" x2="798.4" y2="23.72" stroke="#000" stroke-width="2.2" stroke-linecap="butt"/>
<line x1="1326.6" y1="23.72" x2="1331.2" y2="23.72" stroke="#000" stroke-width="2.2" stroke-linecap="butt"/>
<text x="828" y="446.4" font-size="25" text-anchor="middle">−0.8</text>
<text x="887.2" y="446.4" font-size="25" text-anchor="middle">−0.6</text>
<text x="946.4" y="446.4" font-size="25" text-anchor="middle">−0.4</text>
<text x="1005.6" y="446.4" font-size="25" text-anchor="middle">−0.2</text>
<text x="1064.8" y="446.4" font-size="25" text-anchor="middle">0.0</text>
<text x="1124" y="446.4" font-size="25" text-anchor="middle">0.2</text>
<text x="1183.2" y="446.4" font-size="25" text-anchor="middle">0.4</text>
<text x="1242.4" y="446.4" font-size="25" text-anchor="middle">0.6</text>
<text x="1301.6" y="446.4" font-size="25" text-anchor="middle">0.8</text>
<text x="779.5" y="380.62" font-size="25" text-anchor="end">−6</text>
<text x="779.5" y="334.18" font-size="25" text-anchor="end">−4</text>
<text x="779.5" y="287.74" font-size="25" text-anchor="end">−2</text>
<text x="779.5" y="241.3" font-size="25" text-anchor="end">0</text>
<text x="779.5" y="194.86" font-size="25" text-anchor="end">2</text>
<text x="779.5" y="148.42" font-size="25" text-anchor="end">4</text>
<text x="779.5" y="101.98" font-size="25" text-anchor="end">6</text>
<text x="779.5" y="55.54" font-size="25" text-anchor="end">8</text>
<text x="1064.5" y="488.8" font-size="25" text-anchor="middle">Voltage, <tspan font-style="italic">V</tspan> (V)</text>
<text x="727.4" y="216.6" font-size="25" text-anchor="middle" transform="rotate(-90 727.4 216.6)">Current, <tspan font-style="italic">I</tspan> (mA)</text>
<text x="699.6" y="30.8" font-size="42" text-anchor="start" font-weight="bold">b</text>
<path d="M798.96,376.82 L800.63,376.65 L802.3,376.46 L803.97,376.26 L805.64,376.05 L807.3,375.83 L808.96,375.6 L810.62,375.36 L812.27,375.1 L813.92,374.84 L815.57,374.57 L817.21,374.28 L818.85,373.99 L820.49,373.69 L822.13,373.38 L823.76,373.06 L825.39,372.73 L827.02,372.4 L828.65,372.05 L830.27,371.7 L831.89,371.34 L833.51,370.97 L835.13,370.59 L836.74,370.21 L838.36,369.82 L839.97,369.43 L841.58,369.03 L843.18,368.62 L844.79,368.2 L846.39,367.78 L848,367.36 L849.6,366.93 L851.2,366.49 L852.8,366.05 L854.39,365.61 L855.99,365.16 L857.58,364.7 L859.18,364.24 L860.77,363.78 L862.36,363.32 L863.95,362.85 L865.54,362.38 L867.13,361.9 L868.72,361.43 L870.3,360.95 L871.89,360.47 L873.48,359.98 L875.06,359.5 L876.65,359.01 L878.24,358.53 L879.82,358.04 L881.41,357.55 L882.99,357.06 L884.58,356.57 L886.16,356.08 L887.75,355.59 L889.33,355.09 L890.92,354.6 L892.5,354.12 L894.09,353.63 L895.67,353.14 L897.26,352.66 L898.85,352.17 L900.44,351.69 L902.03,351.21 L903.62,350.73 L905.21,350.26 L906.8,349.78 L908.39,349.31 L909.98,348.85 L911.58,348.39 L913.18,347.93 L914.77,347.47 L916.37,347.02 L917.97,346.57 L919.57,346.12 L921.17,345.67 L922.77,345.23 L924.37,344.79 L925.98,344.35 L927.58,343.91 L929.19,343.48 L930.79,343.05 L932.4,342.61 L934.01,342.18 L935.61,341.75 L937.22,341.32 L938.83,340.9 L940.44,340.47 L942.05,340.04 L943.66,339.61 L945.27,339.19 L946.88,338.76 L948.49,338.33 L950.11,337.91 L951.72,337.48 L953.33,337.05 L954.94,336.62 L956.56,336.19 L958.17,335.76 L959.78,335.33 L961.4,334.89 L963.01,334.46 L964.62,334.02 L966.23,333.58 L967.85,333.14 L969.46,332.7 L971.07,332.25 L972.69,331.8 L974.3,331.35 L975.91,330.9 L977.52,330.44 L979.13,329.98 L980.74,329.51 L982.35,329.04 L983.95,328.55 L985.54,328.05 L987.12,327.53 L988.7,327 L990.26,326.45 L991.81,325.87 L993.35,325.28 L994.87,324.65 L996.38,324 L997.87,323.32 L999.33,322.6 L1000.78,321.85 L1002.2,321.07 L1003.61,320.25 L1004.99,319.39 L1006.35,318.51 L1007.69,317.59 L1009.01,316.64 L1010.31,315.66 L1011.59,314.65 L1012.85,313.62 L1014.1,312.55 L1015.32,311.46 L1016.53,310.35 L1017.72,309.21 L1018.89,308.05 L1020.04,306.87 L1021.18,305.67 L1022.3,304.45 L1023.4,303.21 L1024.49,301.95 L1025.57,300.67 L1026.63,299.38 L1027.67,298.07 L1028.7,296.75 L1029.72,295.42 L1030.72,294.08 L1031.71,292.72 L1032.69,291.36 L1033.65,289.98 L1034.6,288.6 L1035.54,287.21 L1036.47,285.82 L1037.38,284.42 L1038.29,283.02 L1039.19,281.61 L1040.07,280.2 L1040.95,278.78 L1041.81,277.37 L1042.67,275.94 L1043.51,274.52 L1044.35,273.09 L1045.18,271.65 L1046,270.22 L1046.81,268.78 L1047.61,267.33 L1048.41,265.89 L1049.2,264.44 L1049.98,262.99 L1050.76,261.53 L1051.52,260.07 L1052.29,258.61 L1053.04,257.15 L1053.79,255.68 L1054.54,254.21 L1055.28,252.74 L1056.01,251.27 L1056.74,249.79 L1057.47,248.31 L1058.19,246.83 L1058.9,245.35 L1059.62,243.87 L1060.33,242.38 L1061.04,240.89 L1061.74,239.4 L1062.44,237.91 L1063.14,236.42 L1063.84,234.92 L1064.54,233.43 L1065.23,231.93 L1065.92,230.43 L1066.62,228.93 L1067.31,227.43 L1068,225.93 L1068.69,224.43 L1069.38,222.93 L1070.07,221.42 L1070.77,219.92 L1071.46,218.41 L1072.16,216.91 L1072.85,215.4 L1073.55,213.9 L1074.25,212.39 L1074.95,210.88 L1075.66,209.38 L1076.37,207.87 L1077.08,206.36 L1077.79,204.86 L1078.51,203.35 L1079.23,201.84 L1079.96,200.34 L1080.69,198.83 L1081.42,197.33 L1082.16,195.83 L1082.91,194.32 L1083.66,192.82 L1084.42,191.32 L1085.18,189.82 L1085.95,188.32 L1086.72,186.83 L1087.5,185.33 L1088.29,183.84 L1089.08,182.35 L1089.88,180.86 L1090.69,179.38 L1091.5,177.9 L1092.32,176.42 L1093.14,174.95 L1093.98,173.48 L1094.82,172.02 L1095.66,170.56 L1096.52,169.1 L1097.38,167.65 L1098.25,166.2 L1099.12,164.76 L1100.01,163.33 L1100.9,161.9 L1101.8,160.48 L1102.7,159.06 L1103.62,157.65 L1104.54,156.25 L1105.47,154.86 L1106.41,153.47 L1107.36,152.09 L1108.31,150.72 L1109.28,149.35 L1110.25,147.99 L1111.24,146.65 L1112.23,145.31 L1113.23,143.98 L1114.24,142.66 L1115.26,141.35 L1116.28,140.05 L1117.32,138.76 L1118.37,137.47 L1119.43,136.2 L1120.49,134.94 L1121.57,133.7 L1122.66,132.46 L1123.75,131.23 L1124.86,130.02 L1125.98,128.82 L1127.1,127.63 L1128.24,126.45 L1129.39,125.28 L1130.55,124.13 L1131.72,122.99 L1132.9,121.87 L1134.09,120.75 L1135.29,119.65 L1136.51,118.57 L1137.73,117.5 L1138.97,116.45 L1140.22,115.41 L1141.48,114.38 L1142.75,113.37 L1144.03,112.38 L1145.33,111.4 L1146.64,110.43 L1147.96,109.49 L1149.29,108.56 L1150.63,107.64 L1151.99,106.75 L1153.36,105.87 L1154.74,105.01 L1156.13,104.16 L1157.54,103.34 L1158.96,102.53 L1160.39,101.74 L1161.84,100.97 L1163.3,100.21 L1164.76,99.47 L1166.24,98.75 L1167.73,98.04 L1169.23,97.35 L1170.74,96.67 L1172.27,96.01 L1173.8,95.36 L1175.33,94.73 L1176.88,94.11 L1178.44,93.5 L1180,92.91 L1181.57,92.33 L1183.15,91.76 L1184.74,91.2 L1186.33,90.66 L1187.93,90.12 L1189.53,89.6 L1191.14,89.09 L1192.76,88.58 L1194.38,88.09 L1196,87.6 L1197.63,87.13 L1199.27,86.66 L1200.9,86.2 L1202.54,85.75 L1204.18,85.31 L1205.83,84.87 L1207.48,84.44 L1209.12,84.02 L1210.77,83.6 L1212.43,83.19 L1214.08,82.78 L1215.73,82.38 L1217.38,81.99 L1219.03,81.59 L1220.69,81.2 L1222.34,80.82 L1223.99,80.44 L1225.63,80.06 L1227.28,79.68 L1228.92,79.3 L1230.56,78.93 L1232.2,78.56 L1233.83,78.18 L1235.46,77.81 L1237.09,77.44 L1238.71,77.07 L1240.33,76.7 L1241.95,76.33 L1243.57,75.97 L1245.18,75.6 L1246.79,75.24 L1248.39,74.87 L1250,74.51 L1251.6,74.15 L1253.21,73.79 L1254.81,73.43 L1256.41,73.07 L1258,72.72 L1259.6,72.36 L1261.2,72.01 L1262.79,71.66 L1264.39,71.31 L1265.98,70.96 L1267.57,70.62 L1269.17,70.28 L1270.76,69.93 L1272.36,69.6 L1273.95,69.26 L1275.55,68.92 L1277.15,68.59 L1278.74,68.26 L1280.34,67.93 L1281.94,67.61 L1283.55,67.28 L1285.15,66.96 L1286.76,66.65 L1288.36,66.33 L1289.97,66.02 L1291.59,65.71 L1293.2,65.4 L1294.82,65.1 L1296.44,64.8 L1298.06,64.5 L1299.69,64.2 L1301.32,63.91 L1302.95,63.62 L1304.59,63.34 L1306.23,63.06 L1307.88,62.78 L1309.53,62.51 L1311.18,62.23 L1312.84,61.97 L1314.51,61.7 L1316.18,61.44 L1317.85,61.19 L1319.53,60.93 L1321.22,60.69 L1322.91,60.44 L1324.6,60.2 L1326.31,59.96 L1328.02,59.73 L1329.73,59.5 L1331.45,59.28" stroke="#000" stroke-width="2.2" fill="none" stroke-linejoin="round"/>
<rect x="130.7" y="562.3" width="493.3" height="381.5" fill="none" stroke="#000" stroke-width="2.2"/>
<line x1="343.3" y1="943.8" x2="343.3" y2="952" stroke="#000" stroke-width="2.2" stroke-linecap="butt"/>
<line x1="343.3" y1="562.3" x2="343.3" y2="570.5" stroke="#000" stroke-width="2.2" stroke-linecap="butt"/>
<line x1="158.26" y1="943.8" x2="158.26" y2="948.4" stroke="#000" stroke-width="2.2" stroke-linecap="butt"/>
<line x1="158.26" y1="562.3" x2="158.26" y2="566.9" stroke="#000" stroke-width="2.2" stroke-linecap="butt"/>
<line x1="203.32" y1="943.8" x2="203.32" y2="948.4" stroke="#000" stroke-width="2.2" stroke-linecap="butt"/>
<line x1="203.32" y1="562.3" x2="203.32" y2="566.9" stroke="#000" stroke-width="2.2" stroke-linecap="butt"/>
<line x1="240.14" y1="943.8" x2="240.14" y2="948.4" stroke="#000" stroke-width="2.2" stroke-linecap="butt"/>
<line x1="240.14" y1="562.3" x2="240.14" y2="566.9" stroke="#000" stroke-width="2.2" stroke-linecap="butt"/>
<line x1="271.27" y1="943.8" x2="271.27" y2="948.4" stroke="#000" stroke-width="2.2" stroke-linecap="butt"/>
<line x1="271.27" y1="562.3" x2="271.27" y2="566.9" stroke="#000" stroke-width="2.2" stroke-linecap="butt"/>
<line x1="298.24" y1="943.8" x2="298.24" y2="948.4" stroke="#000" stroke-width="2.2" stroke-linecap="butt"/>
<line x1="298.24" y1="562.3" x2="298.24" y2="566.9" stroke="#000" stroke-width="2.2" stroke-linecap="butt"/>
<line x1="322.02" y1="943.8" x2="322.02" y2="948.4" stroke="#000" stroke-width="2.2" stroke-linecap="butt"/>
<line x1="322.02" y1="562.3" x2="322.02" y2="566.9" stroke="#000" stroke-width="2.2" stroke-linecap="butt"/>
<line x1="483.28" y1="943.8" x2="483.28" y2="948.4" stroke="#000" stroke-width="2.2" stroke-linecap="butt"/>
<line x1="483.28" y1="562.3" x2="483.28" y2="566.9" stroke="#000" stroke-width="2.2" stroke-linecap="butt"/>
<line x1="565.16" y1="943.8" x2="565.16" y2="948.4" stroke="#000" stroke-width="2.2" stroke-linecap="butt"/>
<line x1="565.16" y1="562.3" x2="565.16" y2="566.9" stroke="#000" stroke-width="2.2" stroke-linecap="butt"/>
<line x1="623.26" y1="943.8" x2="623.26" y2="948.4" stroke="#000" stroke-width="2.2" stroke-linecap="butt"/>
<line x1="623.26" y1="562.3" x2="623.26" y2="566.9" stroke="#000" stroke-width="2.2" stroke-linecap="butt"/>
<line x1="122.5" y1="595.5" x2="130.7" y2="595.5" stroke="#000" stroke-width="2.2" stroke-linecap="butt"/>
<line x1="615.8" y1="595.5" x2="624" y2="595.5" stroke="#000" stroke-width="2.2" stroke-linecap="butt"/>
<line x1="122.5" y1="708" x2="130.7" y2="708" stroke="#000" stroke-width="2.2" stroke-linecap="butt"/>
<line x1="615.8" y1="708" x2="624" y2="708" stroke="#000" stroke-width="2.2" stroke-linecap="butt"/>
<line x1="122.5" y1="820.5" x2="130.7" y2="820.5" stroke="#000" stroke-width="2.2" stroke-linecap="butt"/>
<line x1="615.8" y1="820.5" x2="624" y2="820.5" stroke="#000" stroke-width="2.2" stroke-linecap="butt"/>
<line x1="122.5" y1="933" x2="130.7" y2="933" stroke="#000" stroke-width="2.2" stroke-linecap="butt"/>
<line x1="615.8" y1="933" x2="624" y2="933" stroke="#000" stroke-width="2.2" stroke-linecap="butt"/>
<line x1="126.5" y1="943.9" x2="130.7" y2="943.9" stroke="#000" stroke-width="2.2" stroke-linecap="butt"/>
<line x1="619.8" y1="943.9" x2="624" y2="943.9" stroke="#000" stroke-width="2.2" stroke-linecap="butt"/>
<line x1="126.5" y1="938.15" x2="130.7" y2="938.15" stroke="#000" stroke-width="2.2" stroke-linecap="butt"/>
<line x1="619.8" y1="938.15" x2="624" y2="938.15" stroke="#000" stroke-width="2.2" stroke-linecap="butt"/>
<line x1="126.5" y1="899.13" x2="130.7" y2="899.13" stroke="#000" stroke-width="2.2" stroke-linecap="butt"/>
<line x1="619.8" y1="899.13" x2="624" y2="899.13" stroke="#000" stroke-width="2.2" stroke-linecap="butt"/>
<line x1="126.5" y1="879.32" x2="130.7" y2="879.32" stroke="#000" stroke-width="2.2" stroke-linecap="butt"/>
<line x1="619.8" y1="879.32" x2="624" y2="879.32" stroke="#000" stroke-width="2.2" stroke-linecap="butt"/>
<line x1="126.5" y1="865.27" x2="130.7" y2="865.27" stroke="#000" stroke-width="2.2" stroke-linecap="butt"/>
<line x1="619.8" y1="865.27" x2="624" y2="865.27" stroke="#000" stroke-width="2.2" stroke-linecap="butt"/>
<line x1="126.5" y1="854.37" x2="130.7" y2="854.37" stroke="#000" stroke-width="2.2" stroke-linecap="butt"/>
<line x1="619.8" y1="854.37" x2="624" y2="854.37" stroke="#000" stroke-width="2.2" stroke-linecap="butt"/>
<line x1="126.5" y1="845.46" x2="130.7" y2="845.46" stroke="#000" stroke-width="2.2" stroke-linecap="butt"/>
<line x1="619.8" y1="845.46" x2="624" y2="845.46" stroke="#000" stroke-width="2.2" stroke-linecap="butt"/>
<line x1="126.5" y1="837.93" x2="130.7" y2="837.93" stroke="#000" stroke-width="2.2" stroke-linecap="butt"/>
<line x1="619.8" y1="837.93" x2="624" y2="837.93" stroke="#000" stroke-width="2.2" stroke-linecap="butt"/>
<line x1="126.5" y1="831.4" x2="130.7" y2="831.4" stroke="#000" stroke-width="2.2" stroke-linecap="butt"/>
<line x1="619.8" y1="831.4" x2="624" y2="831.4" stroke="#000" stroke-width="2.2" stroke-linecap="butt"/>
<line x1="126.5" y1="825.65" x2="130.7" y2="825.65" stroke="#000" stroke-width="2.2" stroke-linecap="butt"/>
<line x1="619.8" y1="825.65" x2="624" y2="825.65" stroke="#000" stroke-width="2.2" stroke-linecap="butt"/>
<line x1="126.5" y1="786.63" x2="130.7" y2="786.63" stroke="#000" stroke-width="2.2" stroke-linecap="butt"/>
<line x1="619.8" y1="786.63" x2="624" y2="786.63" stroke="#000" stroke-width="2.2" stroke-linecap="butt"/>
<line x1="126.5" y1="766.82" x2="130.7" y2="766.82" stroke="#000" stroke-width="2.2" stroke-linecap="butt"/>
<line x1="619.8" y1="766.82" x2="624" y2="766.82" stroke="#000" stroke-width="2.2" stroke-linecap="butt"/>
<line x1="126.5" y1="752.77" x2="130.7" y2="752.77" stroke="#000" stroke-width="2.2" stroke-linecap="butt"/>
<line x1="619.8" y1="752.77" x2="624" y2="752.77" stroke="#000" stroke-width="2.2" stroke-linecap="butt"/>
<line x1="126.5" y1="741.87" x2="130.7" y2="741.87" stroke="#000" stroke-width="2.2" stroke-linecap="butt"/>
<line x1="619.8" y1="741.87" x2="624" y2="741.87" stroke="#000" stroke-width="2.2" stroke-linecap="butt"/>
<line x1="126.5" y1="732.96" x2="130.7" y2="732.96" stroke="#000" stroke-width="2.2" stroke-linecap="butt"/>
<line x1="619.8" y1="732.96" x2="624" y2="732.96" stroke="#000" stroke-width="2.2" stroke-linecap="butt"/>
<line x1="126.5" y1="725.43" x2="130.7" y2="725.43" stroke="#000" stroke-width="2.2" stroke-linecap="butt"/>
<line x1="619.8" y1="725.43" x2="624" y2="725.43" stroke="#000" stroke-width="2.2" stroke-linecap="butt"/>
<line x1="126.5" y1="718.9" x2="130.7" y2="718.9" stroke="#000" stroke-width="2.2" stroke-linecap="butt"/>
<line x1="619.8" y1="718.9" x2="624" y2="718.9" stroke="#000" stroke-width="2.2" stroke-linecap="butt"/>
<line x1="126.5" y1="713.15" x2="130.7" y2="713.15" stroke="#000" stroke-width="2.2" stroke-linecap="butt"/>
<line x1="619.8" y1="713.15" x2="624" y2="713.15" stroke="#000" stroke-width="2.2" stroke-linecap="butt"/>
<line x1="126.5" y1="674.13" x2="130.7" y2="674.13" stroke="#000" stroke-width="2.2" stroke-linecap="butt"/>
<line x1="619.8" y1="674.13" x2="624" y2="674.13" stroke="#000" stroke-width="2.2" stroke-linecap="butt"/>
<line x1="126.5" y1="654.32" x2="130.7" y2="654.32" stroke="#000" stroke-width="2.2" stroke-linecap="butt"/>
<line x1="619.8" y1="654.32" x2="624" y2="654.32" stroke="#000" stroke-width="2.2" stroke-linecap="butt"/>
<line x1="126.5" y1="640.27" x2="130.7" y2="640.27" stroke="#000" stroke-width="2.2" stroke-linecap="butt"/>
<line x1="619.8" y1="640.27" x2="624" y2="640.27" stroke="#000" stroke-width="2.2" stroke-linecap="butt"/>
<line x1="126.5" y1="629.37" x2="130.7" y2="629.37" stroke="#000" stroke-width="2.2" stroke-linecap="butt"/>
<line x1="619.8" y1="629.37" x2="624" y2="629.37" stroke="#000" stroke-width="2.2" stroke-linecap="butt"/>
<line x1="126.5" y1="620.46" x2="130.7" y2="620.46" stroke="#000" stroke-width="2.2" stroke-linecap="butt"/>
<line x1="619.8" y1="620.46" x2="624" y2="620.46" stroke="#000" stroke-width="2.2" stroke-linecap="butt"/>
<line x1="126.5" y1="612.93" x2="130.7" y2="612.93" stroke="#000" stroke-width="2.2" stroke-linecap="butt"/>
<line x1="619.8" y1="612.93" x2="624" y2="612.93" stroke="#000" stroke-width="2.2" stroke-linecap="butt"/>
<line x1="126.5" y1="606.4" x2="130.7" y2="606.4" stroke="#000" stroke-width="2.2" stroke-linecap="butt"/>
<line x1="619.8" y1="606.4" x2="624" y2="606.4" stroke="#000" stroke-width="2.2" stroke-linecap="butt"/>
<line x1="126.5" y1="600.65" x2="130.7" y2="600.65" stroke="#000" stroke-width="2.2" stroke-linecap="butt"/>
<line x1="619.8" y1="600.65" x2="624" y2="600.65" stroke="#000" stroke-width="2.2" stroke-linecap="butt"/>
<text x="343.3" y="980.5" font-size="25" text-anchor="middle">1</text>
<text x="113" y="604.1" font-size="25" text-anchor="end">1E-14</text>
<text x="113" y="716.6" font-size="25" text-anchor="end">1E-15</text>
<text x="113" y="829.1" font-size="25" text-anchor="end">1E-16</text>
<text x="113" y="941.6" font-size="25" text-anchor="end">1E-17</text>
<text x="373" y="1019.3" font-size="25" text-anchor="middle">Laser fluence, <tspan font-style="italic">J</tspan> (mJcm<tspan dy="-8.5" font-size="17">−2</tspan><tspan dy="8.5">)</tspan></text>
<text x="21.8" y="753" font-size="25" text-anchor="middle" transform="rotate(-90 21.8 753)">Charge tramsferred, Δ<tspan font-style="italic">Q</tspan> (C)</text>
<text x="-0.3" y="570.5" font-size="42" text-anchor="start" font-weight="bold">c</text>
<line x1="176" y1="943.5" x2="604" y2="634" stroke="#ff0000" stroke-width="2.2" stroke-linecap="butt"/>
<circle cx="157.5" cy="887.5" r="4.8" fill="#7f00ff"/>
<circle cx="298" cy="792" r="4.8" fill="#7f00ff"/>
<circle cx="380" cy="743.5" r="4.8" fill="#7f00ff"/>
<circle cx="438.5" cy="708" r="4.8" fill="#7f00ff"/>
<circle cx="483.5" cy="681" r="4.8" fill="#7f00ff"/>
<circle cx="520.5" cy="650" r="4.8" fill="#7f00ff"/>
<circle cx="552" cy="627.5" r="4.8" fill="#7f00ff"/>
<circle cx="579" cy="603.5" r="4.8" fill="#7f00ff"/>
<circle cx="603" cy="587" r="4.8" fill="#7f00ff"/>
<rect x="434" y="835" width="9" height="9" fill="#000"/>
<rect x="479" y="796.5" width="9" height="9" fill="#000"/>
<rect x="516" y="776.5" width="9" height="9" fill="#000"/>
<rect x="547.5" y="749.5" width="9" height="9" fill="#000"/>
<rect x="574.5" y="728" width="9" height="9" fill="#000"/>
<rect x="598.5" y="706" width="9" height="9" fill="#000"/>
<rect x="197" y="599.8" width="9" height="9" fill="#7f00ff"/>
<text x="236" y="612.2" font-size="25" text-anchor="start">Sample A</text>
<line x1="177" y1="640" x2="226" y2="640" stroke="#ff0000" stroke-width="2.2" stroke-linecap="butt"/>
<text x="236" y="649" font-size="25" text-anchor="start">Cubic</text>
<rect x="197" y="674.2" width="9" height="9" fill="#000"/>
<text x="236" y="686.4" font-size="25" text-anchor="start">Sample B</text>
<rect x="793.3" y="560.2" width="539.3" height="383.5" fill="none" stroke="#000" stroke-width="2.2"/>
<line x1="850.26" y1="943.7" x2="850.26" y2="951.9" stroke="#000" stroke-width="2.2" stroke-linecap="butt"/>
<line x1="850.26" y1="560.2" x2="850.26" y2="568.4" stroke="#000" stroke-width="2.2" stroke-linecap="butt"/>
<line x1="951" y1="943.7" x2="951" y2="951.9" stroke="#000" stroke-width="2.2" stroke-linecap="butt"/>
<line x1="951" y1="560.2" x2="951" y2="568.4" stroke="#000" stroke-width="2.2" stroke-linecap="butt"/>
<line x1="1051.74" y1="943.7" x2="1051.74" y2="951.9" stroke="#000" stroke-width="2.2" stroke-linecap="butt"/>
<line x1="1051.74" y1="560.2" x2="1051.74" y2="568.4" stroke="#000" stroke-width="2.2" stroke-linecap="butt"/>
<line x1="1152.48" y1="943.7" x2="1152.48" y2="951.9" stroke="#000" stroke-width="2.2" stroke-linecap="butt"/>
<line x1="1152.48" y1="560.2" x2="1152.48" y2="568.4" stroke="#000" stroke-width="2.2" stroke-linecap="butt"/>
<line x1="1253.22" y1="943.7" x2="1253.22" y2="951.9" stroke="#000" stroke-width="2.2" stroke-linecap="butt"/>
<line x1="1253.22" y1="560.2" x2="1253.22" y2="568.4" stroke="#000" stroke-width="2.2" stroke-linecap="butt"/>
<line x1="799.89" y1="943.7" x2="799.89" y2="948.3" stroke="#000" stroke-width="2.2" stroke-linecap="butt"/>
<line x1="799.89" y1="560.2" x2="799.89" y2="564.8" stroke="#000" stroke-width="2.2" stroke-linecap="butt"/>
<line x1="900.63" y1="943.7" x2="900.63" y2="948.3" stroke="#000" stroke-width="2.2" stroke-linecap="butt"/>
<line x1="900.63" y1="560.2" x2="900.63" y2="564.8" stroke="#000" stroke-width="2.2" stroke-linecap="butt"/>
<line x1="1001.37" y1="943.7" x2="1001.37" y2="948.3" stroke="#000" stroke-width="2.2" stroke-linecap="butt"/>
<line x1="1001.37" y1="560.2" x2="1001.37" y2="564.8" stroke="#000" stroke-width="2.2" stroke-linecap="butt"/>
<line x1="1102.11" y1="943.7" x2="1102.11" y2="948.3" stroke="#000" stroke-width="2.2" stroke-linecap="butt"/>
<line x1="1102.11" y1="560.2" x2="1102.11" y2="564.8" stroke="#000" stroke-width="2.2" stroke-linecap="butt"/>
<line x1="1202.85" y1="943.7" x2="1202.85" y2="948.3" stroke="#000" stroke-width="2.2" stroke-linecap="butt"/>
<line x1="1202.85" y1="560.2" x2="1202.85" y2="564.8" stroke="#000" stroke-width="2.2" stroke-linecap="butt"/>
<line x1="1303.59" y1="943.7" x2="1303.59" y2="948.3" stroke="#000" stroke-width="2.2" stroke-linecap="butt"/>
<line x1="1303.59" y1="560.2" x2="1303.59" y2="564.8" stroke="#000" stroke-width="2.2" stroke-linecap="butt"/>
<line x1="785.1" y1="830.2" x2="793.3" y2="830.2" stroke="#000" stroke-width="2.2" stroke-linecap="butt"/>
<line x1="1324.4" y1="830.2" x2="1332.6" y2="830.2" stroke="#000" stroke-width="2.2" stroke-linecap="butt"/>
<line x1="785.1" y1="602.2" x2="793.3" y2="602.2" stroke="#000" stroke-width="2.2" stroke-linecap="butt"/>
<line x1="1324.4" y1="602.2" x2="1332.6" y2="602.2" stroke="#000" stroke-width="2.2" stroke-linecap="butt"/>
<line x1="788.7" y1="716.2" x2="793.3" y2="716.2" stroke="#000" stroke-width="2.2" stroke-linecap="butt"/>
<line x1="1328" y1="716.2" x2="1332.6" y2="716.2" stroke="#000" stroke-width="2.2" stroke-linecap="butt"/>
<text x="850.26" y="984.6" font-size="25" text-anchor="middle">−200</text>
<text x="951" y="984.6" font-size="25" text-anchor="middle">0</text>
<text x="1051.74" y="984.6" font-size="25" text-anchor="middle">200</text>
<text x="1152.48" y="984.6" font-size="25" text-anchor="middle">400</text>
<text x="1253.22" y="984.6" font-size="25" text-anchor="middle">600</text>
<text x="772.5" y="611.4" font-size="25" text-anchor="end">1</text>
<text x="772.5" y="839.4" font-size="25" text-anchor="end">0</text>
<text x="1060" y="1026.5" font-size="25" text-anchor="middle">Time, <tspan font-style="italic">t</tspan> (ps)</text>
<text x="729" y="753" font-size="25" text-anchor="middle" transform="rotate(-90 729 753)">Normalised signal (arb.units)</text>
<text x="700.5" y="570.5" font-size="42" text-anchor="start" font-weight="bold">d</text>
<clipPath id="cd"><rect x="793.3" y="560.2" width="539.3" height="383.5"/></clipPath>
<g clip-path="url(#cd)">
<path d="M793,828.99 L794.68,828.97 L796.35,828.97 L798.03,828.99 L799.7,829.02 L801.37,829.06 L803.04,829.12 L804.7,829.18 L806.36,829.25 L808.02,829.32 L809.68,829.4 L811.34,829.48 L813,829.56 L814.65,829.63 L816.3,829.7 L817.96,829.76 L819.61,829.82 L821.26,829.86 L822.91,829.89 L824.57,829.91 L826.22,829.91 L827.87,829.89 L829.52,829.86 L831.17,829.8 L832.82,829.72 L834.48,829.61 L836.13,829.48 L837.79,829.31 L839.44,829.12 L841.1,828.89 L842.76,828.63 L844.41,828.32 L846.06,827.98 L847.7,827.59 L849.32,827.16 L850.91,826.67 L852.49,826.12 L854.03,825.52 L855.54,824.86 L857.01,824.13 L858.43,823.33 L859.81,822.46 L861.14,821.51 L862.41,820.5 L863.64,819.41 L864.81,818.27 L865.94,817.06 L867.02,815.8 L868.05,814.5 L869.05,813.14 L869.99,811.75 L870.9,810.33 L871.77,808.88 L872.6,807.4 L873.39,805.9 L874.15,804.38 L874.87,802.86 L875.56,801.32 L876.21,799.78 L876.84,798.23 L877.44,796.68 L878.01,795.12 L878.56,793.56 L879.09,791.99 L879.6,790.41 L880.08,788.83 L880.55,787.25 L881,785.66 L881.44,784.07 L881.87,782.47 L882.28,780.87 L882.69,779.27 L883.09,777.67 L883.48,776.06 L883.87,774.45 L884.25,772.84 L884.64,771.23 L885.03,769.62 L885.41,768 L885.8,766.38 L886.18,764.77 L886.57,763.15 L886.95,761.53 L887.34,759.91 L887.72,758.29 L888.1,756.67 L888.48,755.04 L888.86,753.42 L889.24,751.8 L889.61,750.17 L889.98,748.55 L890.35,746.92 L890.72,745.3 L891.08,743.67 L891.45,742.04 L891.8,740.42 L892.16,738.79 L892.51,737.16 L892.87,735.53 L893.22,733.9 L893.56,732.28 L893.91,730.65 L894.26,729.02 L894.6,727.39 L894.94,725.76 L895.28,724.13 L895.62,722.5 L895.96,720.88 L896.29,719.25 L896.63,717.62 L896.96,715.99 L897.3,714.36 L897.63,712.73 L897.97,711.1 L898.3,709.47 L898.64,707.84 L898.97,706.22 L899.31,704.59 L899.64,702.96 L899.98,701.33 L900.31,699.7 L900.65,698.08 L900.99,696.45 L901.33,694.82 L901.67,693.2 L902.01,691.57 L902.35,689.94 L902.7,688.32 L903.04,686.69 L903.39,685.07 L903.74,683.44 L904.09,681.82 L904.45,680.19 L904.8,678.57 L905.16,676.95 L905.52,675.33 L905.89,673.7 L906.25,672.08 L906.63,670.46 L907,668.84 L907.38,667.22 L907.76,665.61 L908.14,663.99 L908.53,662.37 L908.92,660.75 L909.32,659.14 L909.73,657.53 L910.14,655.92 L910.56,654.31 L910.98,652.7 L911.42,651.09 L911.86,649.49 L912.31,647.88 L912.77,646.28 L913.23,644.69 L913.71,643.09 L914.2,641.5 L914.7,639.91 L915.21,638.32 L915.73,636.74 L916.27,635.16 L916.82,633.58 L917.38,632 L917.95,630.43 L918.54,628.87 L919.14,627.3 L919.76,625.74 L920.4,624.19 L921.07,622.66 L921.78,621.16 L922.55,619.69 L923.38,618.28 L924.29,616.92 L925.29,615.63 L926.39,614.42 L927.58,613.29 L928.84,612.21 L930.16,611.17 L931.5,610.13 L932.86,609.09 L934.19,608.03 L935.5,606.93 L936.82,605.84 L938.17,604.84 L939.59,603.97 L941.12,603.3 L942.77,602.87 L944.49,602.68 L946.21,602.71 L947.87,602.95 L949.43,603.38 L950.88,604 L952.23,604.79 L953.49,605.72 L954.67,606.78 L955.77,607.96 L956.81,609.23 L957.78,610.58 L958.71,612 L959.59,613.46 L960.44,614.95 L961.26,616.46 L962.06,617.97 L962.84,619.48 L963.6,621.01 L964.33,622.53 L965.05,624.06 L965.74,625.6 L966.42,627.14 L967.08,628.68 L967.72,630.23 L968.34,631.78 L968.95,633.34 L969.54,634.9 L970.11,636.46 L970.67,638.03 L971.22,639.6 L971.75,641.17 L972.27,642.75 L972.77,644.33 L973.27,645.91 L973.75,647.5 L974.23,649.09 L974.69,650.68 L975.14,652.27 L975.59,653.87 L976.03,655.47 L976.45,657.07 L976.88,658.67 L977.29,660.27 L977.7,661.88 L978.11,663.48 L978.51,665.09 L978.91,666.7 L979.3,668.31 L979.69,669.92 L980.08,671.54 L980.47,673.15 L980.85,674.76 L981.24,676.38 L981.62,677.99 L982.01,679.6 L982.4,681.22 L982.79,682.83 L983.18,684.45 L983.58,686.06 L983.97,687.67 L984.37,689.29 L984.77,690.9 L985.18,692.52 L985.58,694.13 L985.98,695.74 L986.39,697.35 L986.8,698.97 L987.21,700.58 L987.62,702.19 L988.03,703.81 L988.44,705.42 L988.86,707.03 L989.27,708.65 L989.69,710.26 L990.1,711.87 L990.52,713.48 L990.94,715.1 L991.35,716.71 L991.77,718.32 L992.19,719.93 L992.6,721.55 L993.02,723.16 L993.44,724.77 L993.85,726.39 L994.27,728 L994.69,729.61 L995.1,731.23 L995.52,732.84 L995.93,734.45 L996.34,736.06 L996.76,737.68 L997.17,739.29 L997.58,740.91 L997.99,742.52 L998.4,744.13 L998.8,745.75 L999.21,747.36 L999.61,748.98 L1000.01,750.59 L1000.41,752.21 L1000.81,753.82 L1001.21,755.44 L1001.6,757.05 L1002,758.67 L1002.39,760.28 L1002.78,761.9 L1003.17,763.51 L1003.56,765.13 L1003.96,766.74 L1004.35,768.36 L1004.74,769.97 L1005.13,771.59 L1005.52,773.2 L1005.91,774.81 L1006.3,776.43 L1006.69,778.04 L1007.09,779.66 L1007.48,781.27 L1007.88,782.88 L1008.28,784.49 L1008.68,786.1 L1009.08,787.72 L1009.48,789.33 L1009.89,790.94 L1010.3,792.55 L1010.71,794.15 L1011.12,795.76 L1011.54,797.37 L1011.96,798.98 L1012.38,800.58 L1012.81,802.19 L1013.24,803.79 L1013.67,805.4 L1014.11,807 L1014.55,808.6 L1015,810.2 L1015.45,811.8 L1015.9,813.4 L1016.36,815 L1016.83,816.6 L1017.3,818.2 L1017.77,819.79 L1018.25,821.38 L1018.74,822.98 L1019.23,824.57 L1019.73,826.16 L1020.24,827.75 L1020.75,829.34 L1021.26,830.92 L1021.79,832.51 L1022.33,834.09 L1022.88,835.66 L1023.45,837.23 L1024.03,838.79 L1024.63,840.35 L1025.25,841.89 L1025.9,843.43 L1026.57,844.95 L1027.27,846.46 L1027.99,847.96 L1028.75,849.45 L1029.54,850.91 L1030.37,852.37 L1031.23,853.8 L1032.13,855.21 L1033.07,856.61 L1034.06,857.98 L1035.09,859.33 L1036.17,860.66 L1037.29,861.95 L1038.48,863.13 L1039.75,864.1 L1041.1,864.79 L1042.54,865.1 L1044.09,864.99 L1045.69,864.54 L1047.31,863.82 L1048.91,862.91 L1050.46,861.89 L1051.92,860.83 L1053.28,859.78 L1054.56,858.73 L1055.8,857.68 L1057.01,856.62 L1058.22,855.56 L1059.45,854.49 L1060.73,853.4 L1062.05,852.32 L1063.41,851.27 L1064.81,850.25 L1066.24,849.29 L1067.7,848.4 L1069.19,847.61 L1070.7,846.92 L1072.22,846.36 L1073.76,845.94 L1075.31,845.69 L1076.87,845.61 L1078.43,845.72 L1079.99,846.01 L1081.55,846.45 L1083.1,847.02 L1084.65,847.7 L1086.2,848.46 L1087.73,849.28 L1089.26,850.14 L1090.76,851.02 L1092.26,851.89 L1093.73,852.74 L1095.19,853.54 L1096.65,854.29 L1098.1,855 L1099.56,855.67 L1101.04,856.3 L1102.54,856.88 L1104.07,857.42 L1105.65,857.92 L1107.27,858.37 L1108.92,858.76 L1110.59,859.07 L1112.27,859.27 L1113.94,859.36 L1115.59,859.31 L1117.2,859.1 L1118.77,858.73 L1120.27,858.15 L1121.71,857.39 L1123.11,856.49 L1124.47,855.51 L1125.83,854.49 L1127.21,853.5 L1128.62,852.59 L1130.08,851.8 L1131.59,851.13 L1133.14,850.55 L1134.71,850.02 L1136.28,849.5 L1137.86,849.01 L1139.44,848.52 L1141.03,848.04 L1142.62,847.57 L1144.21,847.1 L1145.8,846.63 L1147.39,846.15 L1148.97,845.66 L1150.54,845.17 L1152.12,844.66 L1153.68,844.14 L1155.25,843.62 L1156.82,843.12 L1158.39,842.65 L1159.97,842.21 L1161.56,841.81 L1163.17,841.46 L1164.78,841.13 L1166.37,840.77 L1167.92,840.3 L1169.43,839.71 L1170.91,839.02 L1172.38,838.27 L1173.84,837.49 L1175.32,836.71 L1176.81,835.97 L1178.34,835.3 L1179.9,834.72 L1181.49,834.22 L1183.1,833.8 L1184.73,833.47 L1186.38,833.23 L1188.03,833.07 L1189.69,832.99 L1191.36,833.01 L1193.01,833.1 L1194.67,833.27 L1196.32,833.5 L1197.96,833.75 L1199.6,834.02 L1201.25,834.29 L1202.89,834.53 L1204.53,834.72 L1206.17,834.85 L1207.82,834.9 L1209.47,834.88 L1211.12,834.79 L1212.77,834.64 L1214.42,834.45 L1216.07,834.24 L1217.71,834 L1219.36,833.75 L1220.99,833.49 L1222.63,833.24 L1224.27,833 L1225.91,832.77 L1227.56,832.56 L1229.21,832.38 L1230.87,832.23 L1232.53,832.13 L1234.2,832.07 L1235.89,832.06 L1237.57,832.11 L1239.25,832.22 L1240.92,832.41 L1242.57,832.66 L1244.2,833 L1245.8,833.42 L1247.36,833.93 L1248.88,834.54 L1250.36,835.22 L1251.84,835.92 L1253.35,836.57 L1254.89,837.17 L1256.46,837.72 L1258.05,838.21 L1259.66,838.64 L1261.29,839 L1262.92,839.3 L1264.57,839.53 L1266.23,839.68 L1267.88,839.77 L1269.54,839.77 L1271.19,839.7 L1272.83,839.54 L1274.46,839.31 L1276.07,838.98 L1277.66,838.57 L1279.25,838.1 L1280.82,837.58 L1282.39,837.02 L1283.95,836.44 L1285.52,835.85 L1287.08,835.27 L1288.66,834.72 L1290.25,834.21 L1291.85,833.75 L1293.46,833.36 L1295.09,833.03 L1296.74,832.76 L1298.39,832.56 L1300.05,832.41 L1301.71,832.32 L1303.38,832.28 L1305.05,832.29 L1306.72,832.35 L1308.39,832.46 L1310.05,832.61 L1311.7,832.79 L1313.35,833 L1314.99,833.21 L1316.63,833.4 L1318.26,833.56 L1319.89,833.67 L1321.51,833.71 L1323.14,833.66 L1324.76,833.51 L1326.38,833.25 L1327.99,832.9 L1329.6,832.46 L1331.2,831.94 L1332.8,831.37" stroke="#ff0000" stroke-width="2.1" fill="none" stroke-linejoin="round"/>
<path d="M793.6,829.6 L795.4,835.6 L797.8,840.4 L801.4,841 L803.8,842.8 L806.2,844 L808.6,840.4 L810.4,833.2 L814,832.6 L816.4,829.6 L818.8,826 L820.6,824.2 L824.2,824.2 L826.6,823.6 L829,818.8 L832,817.6 L834.4,819.4 L836.8,823.6 L839.2,823 L841.6,825.4 L843.4,827.2 L845.8,829.6 L847,826 L848.2,828.4 L850.6,832.6 L854.2,836.8 L856.6,834.4 L859,831.4 L861.4,830.2 L865,829 L868.6,825.4 L872.2,821.8 L875.2,818.8 L878.2,821.2 L880.6,821.8 L883.6,820.6 L886.6,815.2 L889,820 L890.2,823 L892.5,818.8 L896.1,818.2 L898.5,817.6 L900.9,820.6 L904.5,822.4 L908.1,824.2 L910.5,826 L912.9,823.6 L916.5,823 L918.9,820 L921.3,823.6 L923.7,828.4 L926.1,832 L928.5,836.8 L931.5,841.6 L934.5,840.4 L936.9,836.8 L939.9,838 L942.9,830.8 L945.3,824.8 L947.1,831.4 L948.9,829.6 L951.3,827.2 L953,817.6 L955.5,808 L958.4,800 L962.4,793.5 L964.4,789.4 L965.8,781.4 L967.8,780 L969.2,773.3 L971.8,767.9 L974.5,753 L977.2,738.2 L979.9,731.5 L981.3,718 L983.3,700.5 L984.6,687 L986.7,676.2 L989.4,668.2 L990.7,657.4 L992.7,648 L995.4,643.2 L998.1,638.5 L1000.8,625 L1003.5,618.3 L1007.5,609.5 L1011.6,602.4 L1015.6,611.6 L1018.3,621 L1022.3,637.2 L1025.7,665.5 L1028.4,670.9 L1031.1,692.4 L1033.8,709.9 L1036.5,717.4 L1038.5,718 L1039.9,727.5 L1041.9,732.9 L1044.6,736.2 L1048,751 L1052,749 L1054.7,754.4 L1058.1,761.8 L1060.8,763.9 L1063.1,772.3 L1064.6,780 L1067.7,789.3 L1069.2,803.1 L1070.8,810.8 L1073.9,821.6 L1075.4,833.1 L1076.9,844.7 L1078.5,857 L1080.8,865.5 L1082.7,870.1 L1084.6,879.9 L1086,890.2 L1090.4,892.4 L1094.8,898.9 L1098,913.1 L1102.4,925.1 L1106.8,921.9 L1112.2,901.1 L1118.8,893.5 L1120,889.4 L1121.8,883.1 L1124.5,874.1 L1126.3,861.6 L1128.1,849.9 L1129.9,842.7 L1132.6,837.3 L1134.4,830.1 L1136.6,819.3 L1140.7,809 L1142.9,811.2 L1145.2,805.8 L1147.9,800.4 L1150.6,795 L1152.8,792.8 L1155.9,794.6 L1158.6,796.4 L1160.9,802.2 L1163.1,795.5 L1166.7,788.8 L1169,795 L1171.2,793.7 L1173,787.4 L1174.8,790.6 L1177.5,791.9 L1181.1,796.4 L1182.9,802.2 L1184.7,813.9 L1187,815.7 L1188.8,826.5 L1191.4,829.2 L1192.8,832.8 L1194.6,837.7 L1197.3,838.2 L1200.9,840 L1202.7,848.1 L1205.4,854.4 L1207.6,860.7 L1209.4,863.4 L1211.7,860.7 L1215.3,851.7 L1219.3,858.9 L1221.6,851.7 L1225.6,845.8 L1227.7,846.3 L1229.5,837.3 L1232.2,834.6 L1234.9,826.5 L1237.6,825.6 L1239.4,818.4 L1241.2,820.2 L1244.8,813 L1249.3,812.1 L1252,814.8 L1255.6,813.9 L1259.1,807.6 L1263.6,800.4 L1269,801.8 L1271.7,794.1 L1275.3,793.7 L1278.9,791.5 L1283.4,784.7 L1287,786.1 L1289.7,782.9 L1291.9,791.5 L1294.2,788.8 L1297.8,795.9 L1301.8,799.5 L1304.1,795.9 L1306.3,798.6 L1310.4,796.4 L1312.6,799.5 L1314,809.4 L1315.8,810.3 L1320.3,826.5 L1322.1,826.9 L1325.6,824.3 L1329.2,823.8 L1332.8,824.3" stroke="#7f00ff" stroke-width="2.1" fill="none" stroke-linejoin="round"/>
<path d="M793,830.2 L802.6,831.4 L814.6,827.2 L829,832 L841,829.6 L853,831.4 L865,829.6 L877,829 L889,829 L901,830.2 L908.1,828.4 L917.7,826 L922.5,824.8 L927.3,820 L932.1,812.8 L935.7,803.2 L938.7,792.4 L943.5,776 L949.6,745 L955.7,711.3 L959.7,681.6 L963.8,654.7 L967.8,631.8 L971.8,614.3 L977.2,604.1 L982,602.2 L985.3,606.2 L988,608.9 L990.7,615.6 L993.4,620.3 L996.1,626.4 L999.4,631.8 L1003.5,636.5 L1007.5,639.2 L1011.6,641.2 L1015.6,648 L1020.3,658.7 L1025,676.3 L1029.1,697.8 L1033.1,722.1 L1037.2,746.4 L1041.2,771.9 L1045.3,800 L1050,819.3 L1053.8,840.8 L1057.7,856.2 L1060.8,867.8 L1064.6,879.9 L1066.4,889.1 L1072.9,907.7 L1080.6,913.7 L1088.2,906.6 L1094,893 L1098,883.7 L1100.8,879.9 L1108.5,866.2 L1114.7,853.9 L1119.3,840.1 L1123.9,827.7 L1127,819.3 L1132.6,807.6 L1137.1,801.3 L1140.7,799.1 L1144.3,802.7 L1147.9,807.6 L1151.5,812.6 L1154.2,821.1 L1157.7,831 L1162.2,839.1 L1164.9,843.6 L1170.3,847.6 L1174.8,849.4 L1179.3,850.3 L1182,852.6 L1185.6,853.9 L1191,853 L1195.5,855.3 L1199.1,853 L1203.6,852.1 L1206.3,849.9 L1209.9,847.2 L1214.4,843.6 L1218,840.9 L1220.7,837.3 L1224.3,834.6 L1227.7,829.6 L1231.3,828.3 L1235.8,825.2 L1241.2,821.1 L1245.7,815.7 L1250.2,813 L1254.7,811.2 L1258.2,809.9 L1262.7,811.2 L1267.2,813 L1270.8,815.7 L1275.3,819.3 L1278.9,824.7 L1281.6,827.4 L1284.3,826.5 L1287.9,826.9 L1291.5,827.8 L1296,829.2 L1299.6,832.8 L1302.3,835.5 L1307.7,836.4 L1311.3,838.2 L1314.9,840.9 L1320.3,843.6 L1323.8,844 L1326.5,846.3 L1330.1,845.8 L1332.8,844" stroke="#000" stroke-width="2.1" fill="none" stroke-linejoin="round"/>
<path d="M793,829.61 L794.6,829.36 L796.2,829.15 L797.81,828.96 L799.41,828.79 L801.02,828.66 L802.62,828.54 L804.23,828.45 L805.84,828.38 L807.45,828.33 L809.07,828.29 L810.68,828.27 L812.29,828.27 L813.9,828.28 L815.52,828.31 L817.13,828.35 L818.75,828.39 L820.36,828.45 L821.98,828.51 L823.59,828.58 L825.2,828.65 L826.82,828.73 L828.43,828.81 L830.04,828.89 L831.65,828.97 L833.26,829.04 L834.87,829.12 L836.48,829.19 L838.08,829.25 L839.69,829.31 L841.29,829.35 L842.9,829.39 L844.5,829.42 L846.1,829.45 L847.7,829.47 L849.3,829.49 L850.9,829.52 L852.5,829.55 L854.1,829.58 L855.71,829.62 L857.31,829.67 L858.92,829.74 L860.53,829.82 L862.15,829.92 L863.76,830.03 L865.39,830.17 L867.01,830.32 L868.64,830.48 L870.26,830.61 L871.87,830.71 L873.47,830.75 L875.05,830.71 L876.62,830.58 L878.16,830.34 L879.68,829.99 L881.19,829.55 L882.69,829.04 L884.2,828.46 L885.71,827.84 L887.21,827.16 L888.69,826.43 L890.14,825.64 L891.54,824.78 L892.88,823.87 L894.16,822.89 L895.38,821.85 L896.55,820.76 L897.66,819.62 L898.73,818.43 L899.75,817.2 L900.72,815.93 L901.66,814.62 L902.55,813.28 L903.41,811.91 L904.24,810.52 L905.03,809.11 L905.8,807.68 L906.54,806.24 L907.26,804.79 L907.95,803.33 L908.63,801.86 L909.28,800.39 L909.92,798.91 L910.53,797.42 L911.13,795.93 L911.71,794.43 L912.27,792.92 L912.81,791.41 L913.34,789.9 L913.85,788.37 L914.35,786.85 L914.83,785.31 L915.3,783.78 L915.75,782.24 L916.19,780.69 L916.62,779.14 L917.04,777.59 L917.45,776.03 L917.84,774.47 L918.23,772.91 L918.61,771.34 L918.98,769.77 L919.34,768.2 L919.69,766.62 L920.04,765.05 L920.38,763.47 L920.71,761.89 L921.04,760.31 L921.36,758.72 L921.68,757.14 L922,755.55 L922.31,753.97 L922.63,752.38 L922.94,750.8 L923.25,749.21 L923.56,747.63 L923.86,746.04 L924.17,744.46 L924.48,742.87 L924.79,741.29 L925.09,739.7 L925.4,738.12 L925.71,736.54 L926.01,734.95 L926.32,733.37 L926.62,731.79 L926.93,730.21 L927.23,728.62 L927.54,727.04 L927.84,725.46 L928.14,723.88 L928.44,722.29 L928.75,720.71 L929.05,719.13 L929.35,717.55 L929.65,715.97 L929.95,714.39 L930.25,712.8 L930.55,711.22 L930.84,709.64 L931.14,708.06 L931.44,706.48 L931.74,704.9 L932.03,703.32 L932.33,701.74 L932.62,700.15 L932.92,698.57 L933.21,696.99 L933.51,695.41 L933.8,693.83 L934.09,692.25 L934.38,690.66 L934.67,689.08 L934.96,687.5 L935.25,685.92 L935.54,684.33 L935.83,682.75 L936.12,681.17 L936.41,679.59 L936.69,678 L936.98,676.42 L937.27,674.84 L937.56,673.25 L937.84,671.67 L938.13,670.08 L938.42,668.5 L938.7,666.92 L938.99,665.33 L939.28,663.75 L939.57,662.16 L939.86,660.58 L940.15,658.99 L940.44,657.41 L940.73,655.82 L941.02,654.24 L941.31,652.65 L941.61,651.07 L941.9,649.48 L942.2,647.9 L942.5,646.31 L942.8,644.72 L943.1,643.14 L943.4,641.55 L943.71,639.97 L944.01,638.38 L944.32,636.79 L944.63,635.21 L944.95,633.62 L945.26,632.04 L945.58,630.45 L945.9,628.86 L946.22,627.28 L946.55,625.69 L946.88,624.11 L947.24,622.53 L947.62,620.97 L948.03,619.41 L948.48,617.87 L948.97,616.35 L949.51,614.84 L950.11,613.36 L950.78,611.9 L951.52,610.48 L952.33,609.08 L953.23,607.72 L954.23,606.39 L955.32,605.1 L956.51,603.87 L957.8,602.9 L959.17,602.51 L960.58,602.88 L961.97,603.79 L963.26,604.99 L964.4,606.24 L965.41,607.54 L966.32,608.86 L967.15,610.22 L967.94,611.6 L968.71,613 L969.47,614.42 L970.22,615.85 L970.96,617.28 L971.71,618.72 L972.45,620.16 L973.21,621.59 L973.97,623 L974.75,624.41 L975.54,625.81 L976.34,627.2 L977.16,628.57 L977.98,629.94 L978.82,631.31 L979.67,632.66 L980.53,634.01 L981.41,635.35 L982.3,636.68 L983.2,638.01 L984.12,639.33 L985.04,640.65 L985.96,641.98 L986.86,643.31 L987.73,644.67 L988.55,646.05 L989.31,647.47 L990.01,648.92 L990.64,650.4 L991.23,651.9 L991.81,653.41 L992.4,654.92 L993.02,656.41 L993.69,657.88 L994.42,659.3 L995.24,660.69 L996.09,662.05 L996.96,663.41 L997.81,664.77 L998.63,666.15 L999.4,667.56 L1000.14,668.99 L1000.83,670.43 L1001.49,671.9 L1002.12,673.38 L1002.72,674.87 L1003.29,676.38 L1003.83,677.9 L1004.36,679.42 L1004.87,680.96 L1005.36,682.5 L1005.84,684.05 L1006.3,685.6 L1006.76,687.15 L1007.21,688.7 L1007.66,690.25 L1008.1,691.81 L1008.53,693.36 L1008.95,694.92 L1009.37,696.48 L1009.78,698.04 L1010.18,699.6 L1010.58,701.16 L1010.97,702.72 L1011.36,704.29 L1011.73,705.85 L1012.11,707.42 L1012.48,708.98 L1012.84,710.55 L1013.2,712.12 L1013.55,713.69 L1013.9,715.26 L1014.24,716.83 L1014.58,718.41 L1014.91,719.98 L1015.24,721.55 L1015.56,723.13 L1015.88,724.71 L1016.2,726.28 L1016.51,727.86 L1016.82,729.44 L1017.12,731.02 L1017.43,732.6 L1017.72,734.18 L1018.02,735.76 L1018.31,737.35 L1018.6,738.93 L1018.89,740.51 L1019.17,742.1 L1019.45,743.68 L1019.73,745.27 L1020.01,746.86 L1020.29,748.44 L1020.56,750.03 L1020.83,751.62 L1021.1,753.21 L1021.37,754.8 L1021.63,756.39 L1021.89,757.98 L1022.15,759.57 L1022.41,761.16 L1022.67,762.75 L1022.93,764.34 L1023.18,765.93 L1023.44,767.53 L1023.69,769.12 L1023.94,770.71 L1024.18,772.31 L1024.43,773.9 L1024.68,775.5 L1024.92,777.09 L1025.16,778.68 L1025.4,780.28 L1025.64,781.87 L1025.88,783.47 L1026.12,785.06 L1026.35,786.66 L1026.59,788.25 L1026.82,789.85 L1027.05,791.45 L1027.28,793.04 L1027.51,794.64 L1027.74,796.23 L1027.97,797.83 L1028.2,799.42 L1028.43,801.02 L1028.65,802.62 L1028.88,804.21 L1029.1,805.81 L1029.33,807.4 L1029.55,809 L1029.77,810.59 L1029.99,812.19 L1030.21,813.78 L1030.43,815.38 L1030.66,816.97 L1030.88,818.56 L1031.09,820.16 L1031.31,821.75 L1031.53,823.34 L1031.75,824.94 L1031.97,826.53 L1032.19,828.12 L1032.41,829.71 L1032.63,831.3 L1032.86,832.89 L1033.09,834.48 L1033.32,836.07 L1033.56,837.66 L1033.8,839.25 L1034.04,840.83 L1034.3,842.42 L1034.56,844 L1034.82,845.58 L1035.1,847.16 L1035.38,848.75 L1035.67,850.32 L1035.98,851.9 L1036.29,853.48 L1036.61,855.05 L1036.95,856.63 L1037.29,858.2 L1037.65,859.77 L1038.02,861.34 L1038.41,862.9 L1038.81,864.47 L1039.22,866.03 L1039.65,867.59 L1040.1,869.15 L1040.56,870.71 L1041.04,872.26 L1041.53,873.82 L1042.05,875.37 L1042.58,876.91 L1043.14,878.46 L1043.71,880 L1044.31,881.54 L1044.93,883.08 L1045.58,884.59 L1046.29,886.07 L1047.08,887.49 L1047.95,888.84 L1048.93,890.08 L1050.05,891.22 L1051.3,892.21 L1052.71,893.05 L1054.22,893.69 L1055.78,894.06 L1057.33,894.12 L1058.81,893.83 L1060.21,893.21 L1061.54,892.31 L1062.8,891.2 L1064,889.93 L1065.14,888.57 L1066.22,887.15 L1067.24,885.75 L1068.23,884.37 L1069.18,883 L1070.1,881.66 L1071,880.34 L1071.9,879.04 L1072.8,877.75 L1073.7,876.48 L1074.63,875.23 L1075.58,874 L1076.56,872.79 L1077.59,871.58 L1078.64,870.39 L1079.71,869.19 L1080.78,868 L1081.84,866.78 L1082.89,865.55 L1083.9,864.3 L1084.86,863.01 L1085.77,861.68 L1086.6,860.31 L1087.36,858.88 L1088.03,857.41 L1088.66,855.91 L1089.27,854.39 L1089.9,852.9 L1090.57,851.43 L1091.32,850.02 L1092.15,848.66 L1093.06,847.36 L1094.03,846.09 L1095.05,844.86 L1096.1,843.64 L1097.19,842.44 L1098.28,841.24 L1099.38,840.03 L1100.48,838.81 L1101.55,837.57 L1102.6,836.31 L1103.68,835.08 L1104.8,833.93 L1106,832.89 L1107.3,832 L1108.7,831.26 L1110.17,830.68 L1111.71,830.24 L1113.29,829.93 L1114.89,829.75 L1116.5,829.7 L1118.1,829.77 L1119.69,829.91 L1121.3,830.03 L1122.98,830.02 L1124.67,829.93 L1126.32,829.96 L1127.81,830.31 L1129.1,831.13 L1130.23,832.3 L1131.35,833.57 L1132.55,834.7 L1133.86,835.65 L1135.24,836.47 L1136.65,837.24 L1138.05,838 L1139.4,838.82 L1140.67,839.76 L1141.83,840.84 L1142.92,842.03 L1143.99,843.27 L1145.06,844.49 L1146.18,845.65 L1147.4,846.68 L1148.74,847.55 L1150.16,848.29 L1151.64,848.9 L1153.17,849.4 L1154.71,849.81 L1156.28,850.15 L1157.87,850.42 L1159.48,850.63 L1161.1,850.81 L1162.74,850.95 L1164.36,851 L1165.93,850.88 L1167.43,850.51 L1168.85,849.89 L1170.2,849.07 L1171.5,848.12 L1172.78,847.07 L1174.06,846.01 L1175.36,844.98 L1176.69,844.04 L1178.08,843.25 L1179.53,842.63 L1181.03,842.14 L1182.58,841.75 L1184.15,841.43 L1185.73,841.15 L1187.33,840.87 L1188.91,840.57 L1190.48,840.33 L1191.99,840.38 L1193.44,840.82 L1194.88,841.37 L1196.38,841.65 L1197.96,841.59 L1199.59,841.4 L1201.23,841.16 L1202.84,840.84 L1204.38,840.37 L1205.81,839.7 L1207.15,838.85 L1208.41,837.87 L1209.62,836.8 L1210.81,835.68 L1212.01,834.56 L1213.22,833.49 L1214.49,832.49 L1215.84,831.63 L1217.26,830.89 L1218.7,830.19 L1220.12,829.43 L1221.49,828.58 L1222.77,827.59 L1223.93,826.42 L1225,825.12 L1226.05,823.82 L1227.15,822.63 L1228.38,821.7 L1229.8,821.12 L1231.37,820.88 L1233.01,820.86 L1234.64,820.98 L1236.24,821.17 L1237.8,821.38 L1239.38,821.57 L1240.96,821.75 L1242.54,821.93 L1244.11,822.14 L1245.66,822.42 L1247.19,822.8 L1248.68,823.29 L1250.12,823.91 L1251.53,824.63 L1252.92,825.44 L1254.3,826.29 L1255.67,827.16 L1257.04,828.03 L1258.43,828.85 L1259.84,829.62 L1261.29,830.29 L1262.77,830.86 L1264.29,831.33 L1265.83,831.74 L1267.39,832.1 L1268.96,832.43 L1270.54,832.76 L1272.11,833.11 L1273.68,833.49 L1275.23,833.94 L1276.76,834.46 L1278.27,835.04 L1279.77,835.67 L1281.27,836.3 L1282.76,836.92 L1284.25,837.51 L1285.76,838.04 L1287.28,838.49 L1288.81,838.84 L1290.37,839.09 L1291.94,839.27 L1293.53,839.4 L1295.12,839.51 L1296.72,839.61 L1298.32,839.75 L1299.93,839.94 L1301.53,840.2 L1303.11,840.55 L1304.68,840.98 L1306.22,841.5 L1307.72,842.11 L1309.16,842.8 L1310.55,843.54 L1311.9,844.01 L1313.23,843.83 L1314.62,843.24 L1316.14,842.71 L1317.72,842.28 L1319.25,841.76 L1320.69,841.1 L1322.07,840.32 L1323.41,839.46 L1324.73,838.54 L1326.04,837.6 L1327.35,836.65 L1328.68,835.71 L1330.02,834.81 L1331.4,833.98 L1332.81,833.23" stroke="#0000ff" stroke-width="2.1" fill="none" stroke-linejoin="round"/>
</g>
<line x1="1107" y1="588" x2="1159.5" y2="588" stroke="#ff0000" stroke-width="2.2" stroke-linecap="butt"/>
<text x="1172.7" y="595.8" font-size="25" text-anchor="start">3.2 mJcm<tspan dy="-8.5" font-size="17">−2</tspan></text>
<line x1="1107" y1="620.1" x2="1159.5" y2="620.1" stroke="#0000ff" stroke-width="2.2" stroke-linecap="butt"/>
<text x="1172.7" y="627.9" font-size="25" text-anchor="start">2.4 mJcm<tspan dy="-8.5" font-size="17">−2</tspan></text>
<line x1="1107" y1="652.2" x2="1159.5" y2="652.2" stroke="#000000" stroke-width="2.2" stroke-linecap="butt"/>
<text x="1172.7" y="660" font-size="25" text-anchor="start">1.6 mJcm<tspan dy="-8.5" font-size="17">−2</tspan></text>
<line x1="1107" y1="684.3" x2="1159.5" y2="684.3" stroke="#7f00ff" stroke-width="2.2" stroke-linecap="butt"/>
<text x="1172.7" y="692.1" font-size="25" text-anchor="start">0.8 mJcm<tspan dy="-8.5" font-size="17">−2</tspan></text>
<rect x="98.4" y="1086.6" width="524.6" height="383.4" fill="none" stroke="#000" stroke-width="2.2"/>
<line x1="103.2" y1="1470" x2="103.2" y2="1478.2" stroke="#000" stroke-width="2.2" stroke-linecap="butt"/>
<line x1="103.2" y1="1086.6" x2="103.2" y2="1094.8" stroke="#000" stroke-width="2.2" stroke-linecap="butt"/>
<line x1="208.2" y1="1470" x2="208.2" y2="1478.2" stroke="#000" stroke-width="2.2" stroke-linecap="butt"/>
<line x1="208.2" y1="1086.6" x2="208.2" y2="1094.8" stroke="#000" stroke-width="2.2" stroke-linecap="butt"/>
<line x1="313.2" y1="1470" x2="313.2" y2="1478.2" stroke="#000" stroke-width="2.2" stroke-linecap="butt"/>
<line x1="313.2" y1="1086.6" x2="313.2" y2="1094.8" stroke="#000" stroke-width="2.2" stroke-linecap="butt"/>
<line x1="418.2" y1="1470" x2="418.2" y2="1478.2" stroke="#000" stroke-width="2.2" stroke-linecap="butt"/>
<line x1="418.2" y1="1086.6" x2="418.2" y2="1094.8" stroke="#000" stroke-width="2.2" stroke-linecap="butt"/>
<line x1="523.2" y1="1470" x2="523.2" y2="1478.2" stroke="#000" stroke-width="2.2" stroke-linecap="butt"/>
<line x1="523.2" y1="1086.6" x2="523.2" y2="1094.8" stroke="#000" stroke-width="2.2" stroke-linecap="butt"/>
<line x1="155.7" y1="1470" x2="155.7" y2="1474.6" stroke="#000" stroke-width="2.2" stroke-linecap="butt"/>
<line x1="155.7" y1="1086.6" x2="155.7" y2="1091.2" stroke="#000" stroke-width="2.2" stroke-linecap="butt"/>
<line x1="260.7" y1="1470" x2="260.7" y2="1474.6" stroke="#000" stroke-width="2.2" stroke-linecap="butt"/>
<line x1="260.7" y1="1086.6" x2="260.7" y2="1091.2" stroke="#000" stroke-width="2.2" stroke-linecap="butt"/>
<line x1="365.7" y1="1470" x2="365.7" y2="1474.6" stroke="#000" stroke-width="2.2" stroke-linecap="butt"/>
<line x1="365.7" y1="1086.6" x2="365.7" y2="1091.2" stroke="#000" stroke-width="2.2" stroke-linecap="butt"/>
<line x1="470.7" y1="1470" x2="470.7" y2="1474.6" stroke="#000" stroke-width="2.2" stroke-linecap="butt"/>
<line x1="470.7" y1="1086.6" x2="470.7" y2="1091.2" stroke="#000" stroke-width="2.2" stroke-linecap="butt"/>
<line x1="575.7" y1="1470" x2="575.7" y2="1474.6" stroke="#000" stroke-width="2.2" stroke-linecap="butt"/>
<line x1="575.7" y1="1086.6" x2="575.7" y2="1091.2" stroke="#000" stroke-width="2.2" stroke-linecap="butt"/>
<line x1="90.2" y1="1442.5" x2="98.4" y2="1442.5" stroke="#000" stroke-width="2.2" stroke-linecap="butt"/>
<line x1="614.8" y1="1442.5" x2="623" y2="1442.5" stroke="#000" stroke-width="2.2" stroke-linecap="butt"/>
<line x1="90.2" y1="1168.3" x2="98.4" y2="1168.3" stroke="#000" stroke-width="2.2" stroke-linecap="butt"/>
<line x1="614.8" y1="1168.3" x2="623" y2="1168.3" stroke="#000" stroke-width="2.2" stroke-linecap="butt"/>
<line x1="93.8" y1="1305.4" x2="98.4" y2="1305.4" stroke="#000" stroke-width="2.2" stroke-linecap="butt"/>
<line x1="618.4" y1="1305.4" x2="623" y2="1305.4" stroke="#000" stroke-width="2.2" stroke-linecap="butt"/>
<text x="103.2" y="1507.2" font-size="25" text-anchor="middle">0</text>
<text x="208.2" y="1507.2" font-size="25" text-anchor="middle">20</text>
<text x="313.2" y="1507.2" font-size="25" text-anchor="middle">40</text>
<text x="418.2" y="1507.2" font-size="25" text-anchor="middle">60</text>
<text x="523.2" y="1507.2" font-size="25" text-anchor="middle">80</text>
<text x="80" y="1176.9" font-size="25" text-anchor="end">1</text>
<text x="80" y="1451.1" font-size="25" text-anchor="end">0</text>
<text x="362" y="1549" font-size="25" text-anchor="middle">Temperature, <tspan font-style="italic">T</tspan> (K)</text>
<text x="43.7" y="1283.6" font-size="25" text-anchor="middle" transform="rotate(-90 43.7 1283.6)">Normalised signal (arb. units)</text>
<text x="-0.5" y="1099" font-size="42" text-anchor="start" font-weight="bold">e</text>
<line x1="156" y1="1185" x2="156" y2="1210" stroke="#222" stroke-width="1.3" stroke-linecap="butt"/>
<line x1="151.4" y1="1185" x2="160.6" y2="1185" stroke="#222" stroke-width="1.3" stroke-linecap="butt"/>
<line x1="151.4" y1="1210" x2="160.6" y2="1210" stroke="#222" stroke-width="1.3" stroke-linecap="butt"/>
<rect x="151.4" y="1193.2" width="9.2" height="8.6" fill="#000"/>
<line x1="208.5" y1="1228.2" x2="208.5" y2="1252.8" stroke="#222" stroke-width="1.3" stroke-linecap="butt"/>
<line x1="203.9" y1="1228.2" x2="213.1" y2="1228.2" stroke="#222" stroke-width="1.3" stroke-linecap="butt"/>
<line x1="203.9" y1="1252.8" x2="213.1" y2="1252.8" stroke="#222" stroke-width="1.3" stroke-linecap="butt"/>
<rect x="203.9" y="1236.2" width="9.2" height="8.6" fill="#000"/>
<line x1="260.5" y1="1293.5" x2="260.5" y2="1318.5" stroke="#222" stroke-width="1.3" stroke-linecap="butt"/>
<line x1="255.9" y1="1293.5" x2="265.1" y2="1293.5" stroke="#222" stroke-width="1.3" stroke-linecap="butt"/>
<line x1="255.9" y1="1318.5" x2="265.1" y2="1318.5" stroke="#222" stroke-width="1.3" stroke-linecap="butt"/>
<rect x="255.9" y="1301.7" width="9.2" height="8.6" fill="#000"/>
<line x1="313.5" y1="1334.2" x2="313.5" y2="1358.8" stroke="#222" stroke-width="1.3" stroke-linecap="butt"/>
<line x1="308.9" y1="1334.2" x2="318.1" y2="1334.2" stroke="#222" stroke-width="1.3" stroke-linecap="butt"/>
<line x1="308.9" y1="1358.8" x2="318.1" y2="1358.8" stroke="#222" stroke-width="1.3" stroke-linecap="butt"/>
<rect x="308.9" y="1342.2" width="9.2" height="8.6" fill="#000"/>
<line x1="366" y1="1381.2" x2="366" y2="1405.8" stroke="#222" stroke-width="1.3" stroke-linecap="butt"/>
<line x1="361.4" y1="1381.2" x2="370.6" y2="1381.2" stroke="#222" stroke-width="1.3" stroke-linecap="butt"/>
<line x1="361.4" y1="1405.8" x2="370.6" y2="1405.8" stroke="#222" stroke-width="1.3" stroke-linecap="butt"/>
<rect x="361.4" y="1389.2" width="9.2" height="8.6" fill="#000"/>
<line x1="418" y1="1420.2" x2="418" y2="1444.8" stroke="#222" stroke-width="1.3" stroke-linecap="butt"/>
<line x1="413.4" y1="1420.2" x2="422.6" y2="1420.2" stroke="#222" stroke-width="1.3" stroke-linecap="butt"/>
<line x1="413.4" y1="1444.8" x2="422.6" y2="1444.8" stroke="#222" stroke-width="1.3" stroke-linecap="butt"/>
<rect x="413.4" y="1428.2" width="9.2" height="8.6" fill="#000"/>
<line x1="470.5" y1="1427.5" x2="470.5" y2="1452.5" stroke="#222" stroke-width="1.3" stroke-linecap="butt"/>
<line x1="465.9" y1="1427.5" x2="475.1" y2="1427.5" stroke="#222" stroke-width="1.3" stroke-linecap="butt"/>
<line x1="465.9" y1="1452.5" x2="475.1" y2="1452.5" stroke="#222" stroke-width="1.3" stroke-linecap="butt"/>
<rect x="465.9" y="1435.7" width="9.2" height="8.6" fill="#000"/>
<line x1="523" y1="1428.5" x2="523" y2="1453.5" stroke="#222" stroke-width="1.3" stroke-linecap="butt"/>
<line x1="518.4" y1="1428.5" x2="527.6" y2="1428.5" stroke="#222" stroke-width="1.3" stroke-linecap="butt"/>
<line x1="518.4" y1="1453.5" x2="527.6" y2="1453.5" stroke="#222" stroke-width="1.3" stroke-linecap="butt"/>
<rect x="518.4" y="1436.7" width="9.2" height="8.6" fill="#000"/>
<line x1="128" y1="1156.2" x2="128" y2="1180.8" stroke="#8a2cff" stroke-width="1.3" stroke-linecap="butt"/>
<line x1="123.4" y1="1156.2" x2="132.6" y2="1156.2" stroke="#8a2cff" stroke-width="1.3" stroke-linecap="butt"/>
<line x1="123.4" y1="1180.8" x2="132.6" y2="1180.8" stroke="#8a2cff" stroke-width="1.3" stroke-linecap="butt"/>
<rect x="123.4" y="1164.2" width="9.2" height="8.6" fill="#7f00ff"/>
<line x1="156" y1="1178.5" x2="156" y2="1203.5" stroke="#8a2cff" stroke-width="1.3" stroke-linecap="butt"/>
<line x1="151.4" y1="1178.5" x2="160.6" y2="1178.5" stroke="#8a2cff" stroke-width="1.3" stroke-linecap="butt"/>
<line x1="151.4" y1="1203.5" x2="160.6" y2="1203.5" stroke="#8a2cff" stroke-width="1.3" stroke-linecap="butt"/>
<rect x="151.4" y="1186.7" width="9.2" height="8.6" fill="#7f00ff"/>
<line x1="208.5" y1="1268.5" x2="208.5" y2="1293.5" stroke="#8a2cff" stroke-width="1.3" stroke-linecap="butt"/>
<line x1="203.9" y1="1268.5" x2="213.1" y2="1268.5" stroke="#8a2cff" stroke-width="1.3" stroke-linecap="butt"/>
<line x1="203.9" y1="1293.5" x2="213.1" y2="1293.5" stroke="#8a2cff" stroke-width="1.3" stroke-linecap="butt"/>
<rect x="203.9" y="1276.7" width="9.2" height="8.6" fill="#7f00ff"/>
<line x1="260.5" y1="1289" x2="260.5" y2="1315" stroke="#8a2cff" stroke-width="1.3" stroke-linecap="butt"/>
<line x1="255.9" y1="1289" x2="265.1" y2="1289" stroke="#8a2cff" stroke-width="1.3" stroke-linecap="butt"/>
<line x1="255.9" y1="1315" x2="265.1" y2="1315" stroke="#8a2cff" stroke-width="1.3" stroke-linecap="butt"/>
<rect x="255.9" y="1297.7" width="9.2" height="8.6" fill="#7f00ff"/>
<line x1="314.5" y1="1350.5" x2="314.5" y2="1375.5" stroke="#8a2cff" stroke-width="1.3" stroke-linecap="butt"/>
<line x1="309.9" y1="1350.5" x2="319.1" y2="1350.5" stroke="#8a2cff" stroke-width="1.3" stroke-linecap="butt"/>
<line x1="309.9" y1="1375.5" x2="319.1" y2="1375.5" stroke="#8a2cff" stroke-width="1.3" stroke-linecap="butt"/>
<rect x="309.9" y="1358.7" width="9.2" height="8.6" fill="#7f00ff"/>
<line x1="366" y1="1348" x2="366" y2="1373" stroke="#8a2cff" stroke-width="1.3" stroke-linecap="butt"/>
<line x1="361.4" y1="1348" x2="370.6" y2="1348" stroke="#8a2cff" stroke-width="1.3" stroke-linecap="butt"/>
<line x1="361.4" y1="1373" x2="370.6" y2="1373" stroke="#8a2cff" stroke-width="1.3" stroke-linecap="butt"/>
<rect x="361.4" y="1356.2" width="9.2" height="8.6" fill="#7f00ff"/>
<line x1="418" y1="1395.2" x2="418" y2="1419.8" stroke="#8a2cff" stroke-width="1.3" stroke-linecap="butt"/>
<line x1="413.4" y1="1395.2" x2="422.6" y2="1395.2" stroke="#8a2cff" stroke-width="1.3" stroke-linecap="butt"/>
<line x1="413.4" y1="1419.8" x2="422.6" y2="1419.8" stroke="#8a2cff" stroke-width="1.3" stroke-linecap="butt"/>
<rect x="413.4" y="1403.2" width="9.2" height="8.6" fill="#7f00ff"/>
<line x1="470.5" y1="1421.5" x2="470.5" y2="1446.5" stroke="#8a2cff" stroke-width="1.3" stroke-linecap="butt"/>
<line x1="465.9" y1="1421.5" x2="475.1" y2="1421.5" stroke="#8a2cff" stroke-width="1.3" stroke-linecap="butt"/>
<line x1="465.9" y1="1446.5" x2="475.1" y2="1446.5" stroke="#8a2cff" stroke-width="1.3" stroke-linecap="butt"/>
<rect x="465.9" y="1429.7" width="9.2" height="8.6" fill="#7f00ff"/>
<line x1="523" y1="1426" x2="523" y2="1451" stroke="#8a2cff" stroke-width="1.3" stroke-linecap="butt"/>
<line x1="518.4" y1="1426" x2="527.6" y2="1426" stroke="#8a2cff" stroke-width="1.3" stroke-linecap="butt"/>
<line x1="518.4" y1="1451" x2="527.6" y2="1451" stroke="#8a2cff" stroke-width="1.3" stroke-linecap="butt"/>
<rect x="518.4" y="1434.2" width="9.2" height="8.6" fill="#7f00ff"/>
<line x1="576.5" y1="1429.7" x2="576.5" y2="1454.3" stroke="#8a2cff" stroke-width="1.3" stroke-linecap="butt"/>
<line x1="571.9" y1="1429.7" x2="581.1" y2="1429.7" stroke="#8a2cff" stroke-width="1.3" stroke-linecap="butt"/>
<line x1="571.9" y1="1454.3" x2="581.1" y2="1454.3" stroke="#8a2cff" stroke-width="1.3" stroke-linecap="butt"/>
<rect x="571.9" y="1437.7" width="9.2" height="8.6" fill="#7f00ff"/>
<rect x="455.5" y="1116" width="9" height="9" fill="#000"/>
<text x="474" y="1129" font-size="25" text-anchor="start">Sample B</text>
<rect x="455.5" y="1150.5" width="9" height="9" fill="#7f00ff"/>
<text x="474" y="1163.3" font-size="25" text-anchor="start">Sample A</text>
<rect x="809" y="1086.3" width="522" height="383.7" fill="none" stroke="#000" stroke-width="2.2"/>
<line x1="810" y1="1470" x2="810" y2="1478.2" stroke="#000" stroke-width="2.2" stroke-linecap="butt"/>
<line x1="810" y1="1086.3" x2="810" y2="1094.5" stroke="#000" stroke-width="2.2" stroke-linecap="butt"/>
<line x1="915.1" y1="1470" x2="915.1" y2="1478.2" stroke="#000" stroke-width="2.2" stroke-linecap="butt"/>
<line x1="915.1" y1="1086.3" x2="915.1" y2="1094.5" stroke="#000" stroke-width="2.2" stroke-linecap="butt"/>
<line x1="1020.2" y1="1470" x2="1020.2" y2="1478.2" stroke="#000" stroke-width="2.2" stroke-linecap="butt"/>
<line x1="1020.2" y1="1086.3" x2="1020.2" y2="1094.5" stroke="#000" stroke-width="2.2" stroke-linecap="butt"/>
<line x1="1125.3" y1="1470" x2="1125.3" y2="1478.2" stroke="#000" stroke-width="2.2" stroke-linecap="butt"/>
<line x1="1125.3" y1="1086.3" x2="1125.3" y2="1094.5" stroke="#000" stroke-width="2.2" stroke-linecap="butt"/>
<line x1="1230.4" y1="1470" x2="1230.4" y2="1478.2" stroke="#000" stroke-width="2.2" stroke-linecap="butt"/>
<line x1="1230.4" y1="1086.3" x2="1230.4" y2="1094.5" stroke="#000" stroke-width="2.2" stroke-linecap="butt"/>
<line x1="862.55" y1="1470" x2="862.55" y2="1474.6" stroke="#000" stroke-width="2.2" stroke-linecap="butt"/>
<line x1="862.55" y1="1086.3" x2="862.55" y2="1090.9" stroke="#000" stroke-width="2.2" stroke-linecap="butt"/>
<line x1="967.65" y1="1470" x2="967.65" y2="1474.6" stroke="#000" stroke-width="2.2" stroke-linecap="butt"/>
<line x1="967.65" y1="1086.3" x2="967.65" y2="1090.9" stroke="#000" stroke-width="2.2" stroke-linecap="butt"/>
<line x1="1072.75" y1="1470" x2="1072.75" y2="1474.6" stroke="#000" stroke-width="2.2" stroke-linecap="butt"/>
<line x1="1072.75" y1="1086.3" x2="1072.75" y2="1090.9" stroke="#000" stroke-width="2.2" stroke-linecap="butt"/>
<line x1="1177.85" y1="1470" x2="1177.85" y2="1474.6" stroke="#000" stroke-width="2.2" stroke-linecap="butt"/>
<line x1="1177.85" y1="1086.3" x2="1177.85" y2="1090.9" stroke="#000" stroke-width="2.2" stroke-linecap="butt"/>
<line x1="1282.95" y1="1470" x2="1282.95" y2="1474.6" stroke="#000" stroke-width="2.2" stroke-linecap="butt"/>
<line x1="1282.95" y1="1086.3" x2="1282.95" y2="1090.9" stroke="#000" stroke-width="2.2" stroke-linecap="butt"/>
<line x1="800.8" y1="1453" x2="809" y2="1453" stroke="#000" stroke-width="2.2" stroke-linecap="butt"/>
<line x1="1322.8" y1="1453" x2="1331" y2="1453" stroke="#000" stroke-width="2.2" stroke-linecap="butt"/>
<line x1="800.8" y1="1386.3" x2="809" y2="1386.3" stroke="#000" stroke-width="2.2" stroke-linecap="butt"/>
<line x1="1322.8" y1="1386.3" x2="1331" y2="1386.3" stroke="#000" stroke-width="2.2" stroke-linecap="butt"/>
<line x1="800.8" y1="1319.6" x2="809" y2="1319.6" stroke="#000" stroke-width="2.2" stroke-linecap="butt"/>
<line x1="1322.8" y1="1319.6" x2="1331" y2="1319.6" stroke="#000" stroke-width="2.2" stroke-linecap="butt"/>
<line x1="800.8" y1="1252.9" x2="809" y2="1252.9" stroke="#000" stroke-width="2.2" stroke-linecap="butt"/>
<line x1="1322.8" y1="1252.9" x2="1331" y2="1252.9" stroke="#000" stroke-width="2.2" stroke-linecap="butt"/>
<line x1="800.8" y1="1186.2" x2="809" y2="1186.2" stroke="#000" stroke-width="2.2" stroke-linecap="butt"/>
<line x1="1322.8" y1="1186.2" x2="1331" y2="1186.2" stroke="#000" stroke-width="2.2" stroke-linecap="butt"/>
<line x1="800.8" y1="1119.5" x2="809" y2="1119.5" stroke="#000" stroke-width="2.2" stroke-linecap="butt"/>
<line x1="1322.8" y1="1119.5" x2="1331" y2="1119.5" stroke="#000" stroke-width="2.2" stroke-linecap="butt"/>
<line x1="804.4" y1="1419.65" x2="809" y2="1419.65" stroke="#000" stroke-width="2.2" stroke-linecap="butt"/>
<line x1="1326.4" y1="1419.65" x2="1331" y2="1419.65" stroke="#000" stroke-width="2.2" stroke-linecap="butt"/>
<line x1="804.4" y1="1352.95" x2="809" y2="1352.95" stroke="#000" stroke-width="2.2" stroke-linecap="butt"/>
<line x1="1326.4" y1="1352.95" x2="1331" y2="1352.95" stroke="#000" stroke-width="2.2" stroke-linecap="butt"/>
<line x1="804.4" y1="1286.25" x2="809" y2="1286.25" stroke="#000" stroke-width="2.2" stroke-linecap="butt"/>
<line x1="1326.4" y1="1286.25" x2="1331" y2="1286.25" stroke="#000" stroke-width="2.2" stroke-linecap="butt"/>
<line x1="804.4" y1="1219.55" x2="809" y2="1219.55" stroke="#000" stroke-width="2.2" stroke-linecap="butt"/>
<line x1="1326.4" y1="1219.55" x2="1331" y2="1219.55" stroke="#000" stroke-width="2.2" stroke-linecap="butt"/>
<line x1="804.4" y1="1152.85" x2="809" y2="1152.85" stroke="#000" stroke-width="2.2" stroke-linecap="butt"/>
<line x1="1326.4" y1="1152.85" x2="1331" y2="1152.85" stroke="#000" stroke-width="2.2" stroke-linecap="butt"/>
<line x1="804.4" y1="1086.15" x2="809" y2="1086.15" stroke="#000" stroke-width="2.2" stroke-linecap="butt"/>
<line x1="1326.4" y1="1086.15" x2="1331" y2="1086.15" stroke="#000" stroke-width="2.2" stroke-linecap="butt"/>
<text x="810" y="1508.3" font-size="25" text-anchor="middle">0</text>
<text x="915.1" y="1508.3" font-size="25" text-anchor="middle">20</text>
<text x="1020.2" y="1508.3" font-size="25" text-anchor="middle">40</text>
<text x="1125.3" y="1508.3" font-size="25" text-anchor="middle">60</text>
<text x="1230.4" y="1508.3" font-size="25" text-anchor="middle">80</text>
<text x="789" y="1461.6" font-size="25" text-anchor="end">0.0</text>
<text x="789" y="1394.9" font-size="25" text-anchor="end">0.2</text>
<text x="789" y="1328.2" font-size="25" text-anchor="end">0.4</text>
<text x="789" y="1261.5" font-size="25" text-anchor="end">0.6</text>
<text x="789" y="1194.8" font-size="25" text-anchor="end">0.8</text>
<text x="789" y="1128.1" font-size="25" text-anchor="end">1.0</text>
<text x="1068" y="1551.3" font-size="25" text-anchor="middle">Temperature, <tspan font-style="italic">T</tspan> (K)</text>
<text x="693.4" y="1280.2" font-size="25" text-anchor="middle" transform="rotate(-90 693.4 1280.2)">Normalised mobility, <tspan font-style="italic">μ</tspan></text>
<text x="731.1" y="1281.5" font-size="25" text-anchor="middle" transform="rotate(-90 731.1 1281.5)">(10<tspan dy="-8.5" font-size="17">6</tspan><tspan dy="8.5"> cm</tspan><tspan dy="-8.5" font-size="17">2</tspan><tspan dy="8.5"> V</tspan><tspan dy="-8.5" font-size="17">−1</tspan><tspan dy="8.5"> s</tspan><tspan dy="-8.5" font-size="17">−1</tspan><tspan dy="8.5">)</tspan></text>
<text x="671.5" y="1099" font-size="42" text-anchor="start" font-weight="bold">f</text>
<line x1="862.5" y1="1105.5" x2="862.5" y2="1138.5" stroke="#222" stroke-width="1.3" stroke-linecap="butt"/>
<line x1="857.9" y1="1105.5" x2="867.1" y2="1105.5" stroke="#222" stroke-width="1.3" stroke-linecap="butt"/>
<line x1="857.9" y1="1138.5" x2="867.1" y2="1138.5" stroke="#222" stroke-width="1.3" stroke-linecap="butt"/>
<rect x="857.9" y="1117.7" width="9.2" height="8.6" fill="#000"/>
<line x1="914.5" y1="1117.5" x2="914.5" y2="1149.5" stroke="#222" stroke-width="1.3" stroke-linecap="butt"/>
<line x1="909.9" y1="1117.5" x2="919.1" y2="1117.5" stroke="#222" stroke-width="1.3" stroke-linecap="butt"/>
<line x1="909.9" y1="1149.5" x2="919.1" y2="1149.5" stroke="#222" stroke-width="1.3" stroke-linecap="butt"/>
<rect x="909.9" y="1129.2" width="9.2" height="8.6" fill="#000"/>
<line x1="967" y1="1136" x2="967" y2="1166" stroke="#222" stroke-width="1.3" stroke-linecap="butt"/>
<line x1="962.4" y1="1136" x2="971.6" y2="1136" stroke="#222" stroke-width="1.3" stroke-linecap="butt"/>
<line x1="962.4" y1="1166" x2="971.6" y2="1166" stroke="#222" stroke-width="1.3" stroke-linecap="butt"/>
<rect x="962.4" y="1146.7" width="9.2" height="8.6" fill="#000"/>
<line x1="1020" y1="1175.5" x2="1020" y2="1201.5" stroke="#222" stroke-width="1.3" stroke-linecap="butt"/>
<line x1="1015.4" y1="1175.5" x2="1024.6" y2="1175.5" stroke="#222" stroke-width="1.3" stroke-linecap="butt"/>
<line x1="1015.4" y1="1201.5" x2="1024.6" y2="1201.5" stroke="#222" stroke-width="1.3" stroke-linecap="butt"/>
<rect x="1015.4" y="1184.2" width="9.2" height="8.6" fill="#000"/>
<line x1="1073" y1="1219" x2="1073" y2="1241" stroke="#222" stroke-width="1.3" stroke-linecap="butt"/>
<line x1="1068.4" y1="1219" x2="1077.6" y2="1219" stroke="#222" stroke-width="1.3" stroke-linecap="butt"/>
<line x1="1068.4" y1="1241" x2="1077.6" y2="1241" stroke="#222" stroke-width="1.3" stroke-linecap="butt"/>
<rect x="1068.4" y="1225.7" width="9.2" height="8.6" fill="#000"/>
<line x1="1125.5" y1="1255.5" x2="1125.5" y2="1274.5" stroke="#222" stroke-width="1.3" stroke-linecap="butt"/>
<line x1="1120.9" y1="1255.5" x2="1130.1" y2="1255.5" stroke="#222" stroke-width="1.3" stroke-linecap="butt"/>
<line x1="1120.9" y1="1274.5" x2="1130.1" y2="1274.5" stroke="#222" stroke-width="1.3" stroke-linecap="butt"/>
<rect x="1120.9" y="1260.7" width="9.2" height="8.6" fill="#000"/>
<line x1="1178" y1="1293.5" x2="1178" y2="1309.5" stroke="#222" stroke-width="1.3" stroke-linecap="butt"/>
<line x1="1173.4" y1="1293.5" x2="1182.6" y2="1293.5" stroke="#222" stroke-width="1.3" stroke-linecap="butt"/>
<line x1="1173.4" y1="1309.5" x2="1182.6" y2="1309.5" stroke="#222" stroke-width="1.3" stroke-linecap="butt"/>
<rect x="1173.4" y="1297.2" width="9.2" height="8.6" fill="#000"/>
<line x1="1231" y1="1331" x2="1231" y2="1342" stroke="#222" stroke-width="1.3" stroke-linecap="butt"/>
<line x1="1226.4" y1="1331" x2="1235.6" y2="1331" stroke="#222" stroke-width="1.3" stroke-linecap="butt"/>
<line x1="1226.4" y1="1342" x2="1235.6" y2="1342" stroke="#222" stroke-width="1.3" stroke-linecap="butt"/>
<rect x="1226.4" y="1332.2" width="9.2" height="8.6" fill="#000"/>
<rect x="1278.9" y="1362.2" width="9.2" height="8.6" fill="#000"/>
<line x1="833.5" y1="1101" x2="833.5" y2="1135" stroke="#8a2cff" stroke-width="1.3" stroke-linecap="butt"/>
<line x1="828.9" y1="1101" x2="838.1" y2="1101" stroke="#8a2cff" stroke-width="1.3" stroke-linecap="butt"/>
<line x1="828.9" y1="1135" x2="838.1" y2="1135" stroke="#8a2cff" stroke-width="1.3" stroke-linecap="butt"/>
<rect x="828.9" y="1113.7" width="9.2" height="8.6" fill="#7f00ff"/>
<line x1="862.5" y1="1137.5" x2="862.5" y2="1166.5" stroke="#8a2cff" stroke-width="1.3" stroke-linecap="butt"/>
<line x1="857.9" y1="1137.5" x2="867.1" y2="1137.5" stroke="#8a2cff" stroke-width="1.3" stroke-linecap="butt"/>
<line x1="857.9" y1="1166.5" x2="867.1" y2="1166.5" stroke="#8a2cff" stroke-width="1.3" stroke-linecap="butt"/>
<rect x="857.9" y="1147.7" width="9.2" height="8.6" fill="#7f00ff"/>
<line x1="914.5" y1="1179.5" x2="914.5" y2="1205.5" stroke="#8a2cff" stroke-width="1.3" stroke-linecap="butt"/>
<line x1="909.9" y1="1179.5" x2="919.1" y2="1179.5" stroke="#8a2cff" stroke-width="1.3" stroke-linecap="butt"/>
<line x1="909.9" y1="1205.5" x2="919.1" y2="1205.5" stroke="#8a2cff" stroke-width="1.3" stroke-linecap="butt"/>
<rect x="909.9" y="1188.2" width="9.2" height="8.6" fill="#7f00ff"/>
<line x1="967" y1="1213" x2="967" y2="1237" stroke="#8a2cff" stroke-width="1.3" stroke-linecap="butt"/>
<line x1="962.4" y1="1213" x2="971.6" y2="1213" stroke="#8a2cff" stroke-width="1.3" stroke-linecap="butt"/>
<line x1="962.4" y1="1237" x2="971.6" y2="1237" stroke="#8a2cff" stroke-width="1.3" stroke-linecap="butt"/>
<rect x="962.4" y="1220.7" width="9.2" height="8.6" fill="#7f00ff"/>
<line x1="1021" y1="1249" x2="1021" y2="1268" stroke="#8a2cff" stroke-width="1.3" stroke-linecap="butt"/>
<line x1="1016.4" y1="1249" x2="1025.6" y2="1249" stroke="#8a2cff" stroke-width="1.3" stroke-linecap="butt"/>
<line x1="1016.4" y1="1268" x2="1025.6" y2="1268" stroke="#8a2cff" stroke-width="1.3" stroke-linecap="butt"/>
<rect x="1016.4" y="1254.2" width="9.2" height="8.6" fill="#7f00ff"/>
<line x1="1073" y1="1285.5" x2="1073" y2="1302.5" stroke="#8a2cff" stroke-width="1.3" stroke-linecap="butt"/>
<line x1="1068.4" y1="1285.5" x2="1077.6" y2="1285.5" stroke="#8a2cff" stroke-width="1.3" stroke-linecap="butt"/>
<line x1="1068.4" y1="1302.5" x2="1077.6" y2="1302.5" stroke="#8a2cff" stroke-width="1.3" stroke-linecap="butt"/>
<rect x="1068.4" y="1289.7" width="9.2" height="8.6" fill="#7f00ff"/>
<line x1="1125.5" y1="1326" x2="1125.5" y2="1338" stroke="#8a2cff" stroke-width="1.3" stroke-linecap="butt"/>
<line x1="1120.9" y1="1326" x2="1130.1" y2="1326" stroke="#8a2cff" stroke-width="1.3" stroke-linecap="butt"/>
<line x1="1120.9" y1="1338" x2="1130.1" y2="1338" stroke="#8a2cff" stroke-width="1.3" stroke-linecap="butt"/>
<rect x="1120.9" y="1327.7" width="9.2" height="8.6" fill="#7f00ff"/>
<rect x="1173.4" y="1374.7" width="9.2" height="8.6" fill="#7f00ff"/>
<rect x="1226.4" y="1405.7" width="9.2" height="8.6" fill="#7f00ff"/>
<rect x="1278.9" y="1437.7" width="9.2" height="8.6" fill="#7f00ff"/>
<rect x="1165" y="1117" width="9" height="9" fill="#000"/>
<text x="1189.5" y="1130.5" font-size="25" text-anchor="start">Sample B</text>
<rect x="1165" y="1144" width="9" height="9" fill="#7f00ff"/>
<text x="1189.5" y="1158" font-size="25" text-anchor="start">Sample A</text></svg>
</body></html>
